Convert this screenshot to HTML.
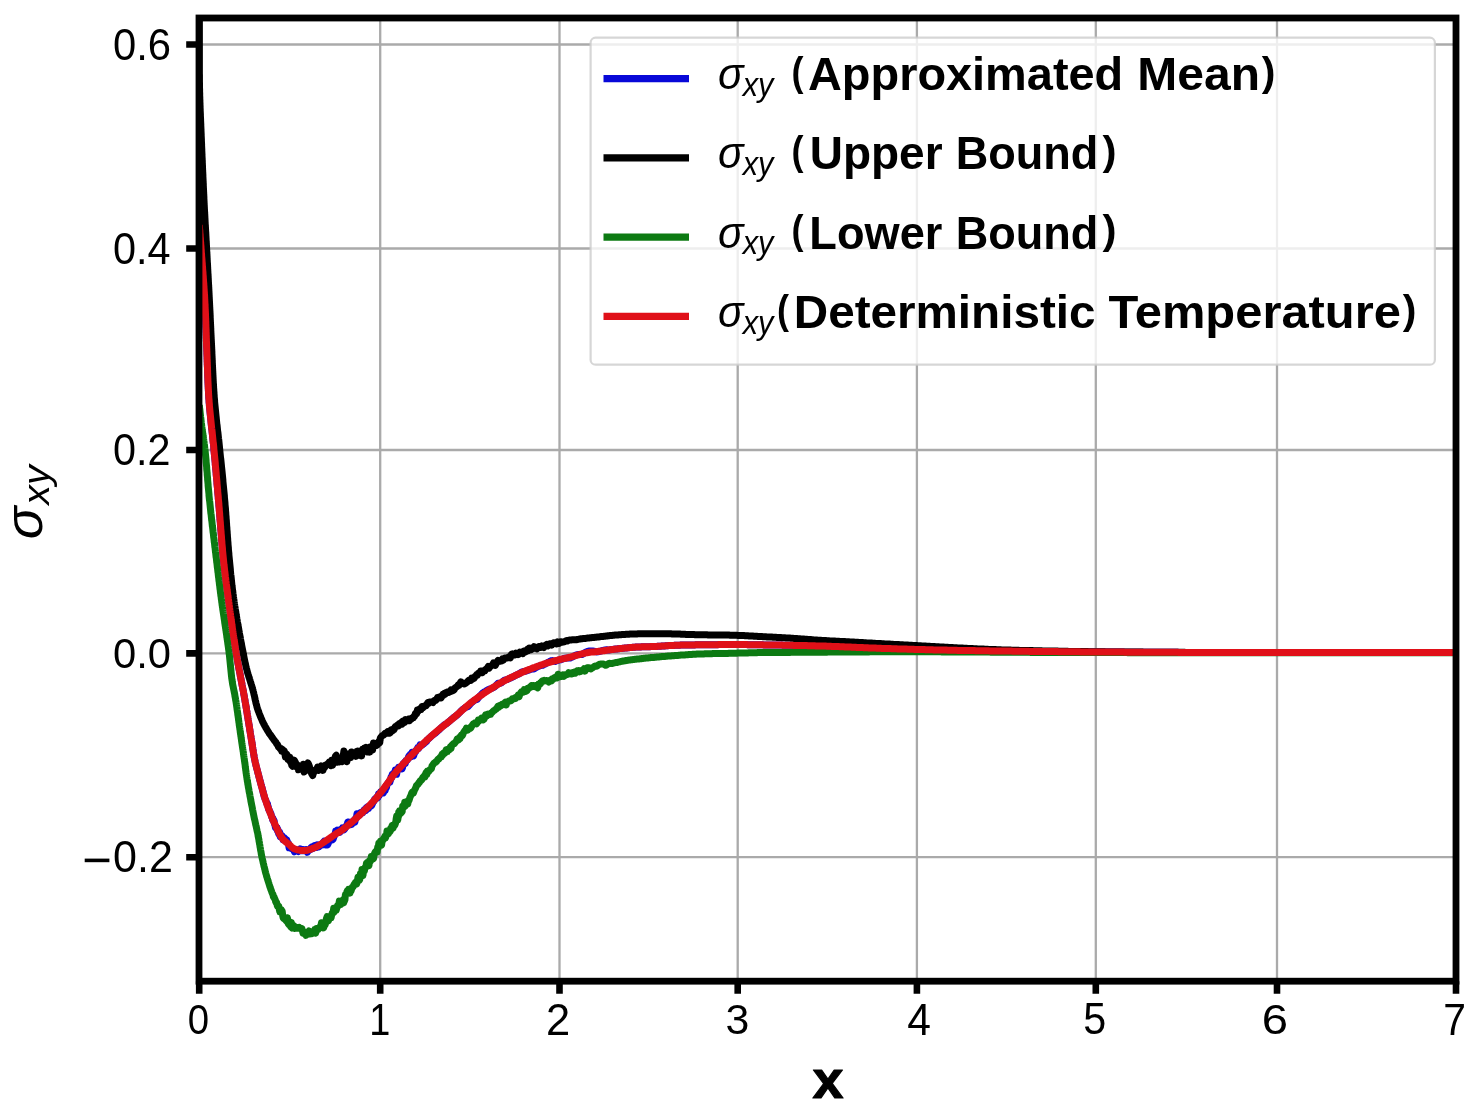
<!DOCTYPE html><html><head><meta charset="utf-8"><style>html,body{margin:0;padding:0;background:#fff;overflow:hidden}svg{display:block;will-change:transform}</style></head><body><svg width="1481" height="1106" viewBox="0 0 1481 1106">
<rect x="0" y="0" width="1481" height="1106" fill="#ffffff"/>
<defs><clipPath id="ax"><rect x="199.0" y="18.0" width="1257.0" height="963.2"/></clipPath></defs>
<path d="M199.2,18.0V981.2M380.2,18.0V981.2M559.5,18.0V981.2M737.7,18.0V981.2M916.9,18.0V981.2M1095.8,18.0V981.2M1277.0,18.0V981.2M1456.0,18.0V981.2M199.0,44.5H1456.0M199.0,248.5H1456.0M199.0,450.0H1456.0M199.0,653.4H1456.0M199.0,857.2H1456.0" stroke="#aaaaaa" stroke-width="2.3" fill="none"/>
<path d="M199.2,981.2V993.8000000000001M380.2,981.2V993.8000000000001M559.5,981.2V993.8000000000001M737.7,981.2V993.8000000000001M916.9,981.2V993.8000000000001M1095.8,981.2V993.8000000000001M1277.0,981.2V993.8000000000001M1456.0,981.2V993.8000000000001M199.0,44.5H186.2M199.0,248.5H186.2M199.0,450.0H186.2M199.0,653.4H186.2M199.0,857.2H186.2" stroke="#000" stroke-width="6.6" fill="none"/>
<g clip-path="url(#ax)" fill="none" stroke-width="7" stroke-linejoin="round" stroke-linecap="butt">
<path d="M199.3,225.0 199.4,226.0 199.5,227.0 199.5,228.0 199.6,229.0 199.7,230.0 199.8,231.0 199.8,232.0 199.9,233.0 200.0,234.0 200.1,235.0 200.1,236.0 200.2,237.0 200.3,238.0 200.4,239.0 200.4,240.0 200.5,241.0 200.6,242.0 200.7,242.9 200.7,243.9 200.8,244.9 200.9,245.9 201.0,246.9 201.0,247.9 201.1,248.9 201.2,249.9 201.3,250.9 201.3,251.9 201.4,252.9 201.5,253.9 201.6,254.9 201.6,255.9 201.7,256.9 201.8,257.9 201.9,258.9 202.0,259.9 202.0,260.9 202.1,261.9 202.2,262.9 202.3,263.9 202.3,264.9 202.4,265.9 202.5,266.9 202.6,267.9 202.6,268.9 202.7,269.9 202.8,270.9 202.9,271.9 203.0,272.9 203.0,273.9 203.1,274.9 203.2,275.9 203.3,276.8 203.3,277.8 203.4,278.8 203.5,279.8 203.5,280.8 203.6,281.8 203.7,282.8 203.8,283.8 203.8,284.8 203.9,285.8 204.0,286.8 204.0,287.8 204.1,288.8 204.2,289.8 204.2,290.8 204.3,291.8 204.4,292.8 204.4,293.8 204.5,294.8 204.6,295.8 204.6,296.8 204.7,297.8 204.7,298.8 204.8,299.8 204.8,300.8 204.9,301.8 204.9,302.8 205.0,303.8 205.1,304.8 205.1,305.8 205.1,306.8 205.2,307.8 205.2,308.8 205.3,309.8 205.3,310.8 205.4,311.8 205.4,312.8 205.5,313.8 205.5,314.8 205.5,315.8 205.6,316.8 205.6,317.8 205.7,318.8 205.7,319.8 205.7,320.8 205.8,321.8 205.8,322.8 205.8,323.8 205.9,324.8 205.9,325.8 205.9,326.8 206.0,327.8 206.0,328.8 206.1,329.8 206.1,330.8 206.1,331.8 206.2,332.8 206.2,333.8 206.2,334.8 206.3,335.8 206.3,336.8 206.3,337.8 206.4,338.8 206.4,339.8 206.4,340.8 206.5,341.8 206.5,342.8 206.6,343.8 206.6,344.8 206.6,345.8 206.7,346.8 206.7,347.8 206.8,348.8 206.8,349.8 206.8,350.8 206.9,351.8 206.9,352.8 206.9,353.8 207.0,354.8 207.0,355.8 207.1,356.8 207.1,357.8 207.1,358.8 207.2,359.7 207.2,360.7 207.2,361.7 207.3,362.7 207.3,363.7 207.3,364.7 207.4,365.7 207.4,366.7 207.5,367.7 207.5,368.7 207.5,369.7 207.6,370.7 207.6,371.7 207.6,372.7 207.7,373.7 207.7,374.7 207.7,375.7 207.8,376.7 207.8,377.7 207.9,378.7 207.9,379.7 207.9,380.7 208.0,381.7 208.0,382.7 208.1,383.7 208.1,384.7 208.2,385.7 208.2,386.7 208.3,387.7 208.3,388.7 208.4,389.7 208.4,390.7 208.5,391.7 208.5,392.7 208.6,393.7 208.6,394.7 208.7,395.7 208.8,396.7 208.8,397.7 208.9,398.7 209.0,399.7 209.1,400.7 209.1,401.7 209.2,402.7 209.3,403.7 209.4,404.7 209.4,405.7 209.5,406.7 209.6,407.7 209.7,408.7 209.8,409.7 209.9,410.7 210.0,411.7 210.1,412.7 210.2,413.7 210.3,414.6 210.4,415.6 210.5,416.6 210.6,417.6 210.7,418.6 210.8,419.6 210.9,420.6 211.0,421.6 211.1,422.6 211.2,423.6 211.3,424.6 211.4,425.6 211.5,426.6 211.6,427.6 211.7,428.6 211.9,429.6 212.0,430.6 212.1,431.6 212.2,432.5 212.3,433.5 212.4,434.5 212.5,435.5 212.6,436.5 212.7,437.5 212.8,438.5 212.9,439.5 213.0,440.5 213.1,441.5 213.2,442.5 213.4,443.5 213.5,444.5 213.6,445.5 213.7,446.5 213.8,447.5 213.8,448.5 213.9,449.5 214.0,450.5 214.1,451.4 214.2,452.4 214.3,453.4 214.4,454.4 214.5,455.4 214.6,456.4 214.7,457.4 214.8,458.4 214.9,459.4 215.0,460.4 215.1,461.4 215.2,462.4 215.3,463.4 215.3,464.4 215.4,465.4 215.5,466.4 215.6,467.4 215.7,468.4 215.8,469.4 215.9,470.4 216.0,471.4 216.1,472.4 216.2,473.4 216.2,474.4 216.3,475.3 216.4,476.3 216.5,477.3 216.6,478.3 216.7,479.3 216.8,480.3 216.9,481.3 217.0,482.3 217.0,483.3 217.1,484.3 217.2,485.3 217.3,486.3 217.4,487.3 217.5,488.3 217.6,489.3 217.7,490.3 217.7,491.3 217.8,492.3 217.9,493.3 218.0,494.3 218.1,495.3 218.2,496.3 218.3,497.3 218.3,498.3 218.4,499.3 218.5,500.3 218.6,501.2 218.7,502.2 218.8,503.2 218.9,504.2 218.9,505.2 219.0,506.2 219.1,507.2 219.2,508.2 219.3,509.2 219.3,510.2 219.4,511.2 219.5,512.2 219.6,513.2 219.7,514.2 219.7,515.2 219.8,516.2 219.9,517.2 220.0,518.2 220.0,519.2 220.1,520.2 220.2,521.2 220.3,522.2 220.4,523.2 220.4,524.2 220.5,525.2 220.6,526.2 220.7,527.2 220.7,528.2 220.8,529.2 220.9,530.2 221.0,531.2 221.1,532.2 221.1,533.1 221.2,534.1 221.3,535.1 221.4,536.1 221.5,537.1 221.5,538.1 221.6,539.1 221.7,540.1 221.8,541.1 221.9,542.1 221.9,543.1 222.0,544.1 222.1,545.1 222.2,546.1 222.3,547.1 222.4,548.1 222.5,549.1 222.5,550.1 222.6,551.1 222.7,552.1 222.8,553.1 222.9,554.1 223.0,555.1 223.1,556.1 223.2,557.1 223.3,558.1 223.4,559.0 223.5,560.0 223.6,561.0 223.7,562.0 223.8,563.0 223.9,564.0 224.0,565.0 224.2,566.0 224.3,567.0 224.4,568.0 224.5,569.0 224.6,570.0 224.7,571.0 224.8,572.0 225.0,573.0 225.1,574.0 225.2,574.9 225.3,575.9 225.4,576.9 225.6,577.9 225.7,578.9 225.8,579.9 225.9,580.9 226.1,581.9 226.2,582.9 226.3,583.9 226.5,584.9 226.6,585.9 226.7,586.8 226.9,587.8 227.0,588.8 227.1,589.8 227.3,590.8 227.4,591.8 227.5,592.8 227.7,593.8 227.8,594.8 227.9,595.8 228.1,596.8 228.2,597.7 228.3,598.7 228.5,599.7 228.6,600.7 228.7,601.7 228.9,602.7 229.0,603.7 229.1,604.7 229.3,605.7 229.4,606.7 229.5,607.7 229.7,608.6 229.8,609.6 229.9,610.6 230.1,611.6 230.2,612.6 230.4,613.6 230.5,614.6 230.6,615.6 230.8,616.6 230.9,617.6 231.0,618.6 231.2,619.5 231.3,620.5 231.5,621.5 231.6,622.5 231.7,623.5 231.9,624.5 232.0,625.5 232.2,626.5 232.3,627.5 232.4,628.5 232.6,629.4 232.7,630.4 232.9,631.4 233.0,632.4 233.2,633.4 233.3,634.4 233.5,635.4 233.6,636.4 233.8,637.4 233.9,638.4 234.1,639.3 234.2,640.3 234.4,641.3 234.5,642.3 234.7,643.3 234.8,644.3 235.0,645.3 235.1,646.3 235.3,647.2 235.4,648.2 235.6,649.2 235.7,650.2 235.9,651.2 236.1,652.2 236.2,653.2 236.4,654.2 236.6,655.1 236.7,656.1 236.9,657.1 237.1,658.1 237.2,659.1 237.4,660.1 237.6,661.1 237.8,662.0 237.9,663.0 238.1,664.0 238.3,665.0 238.5,666.0 238.7,667.0 238.8,667.9 239.0,668.9 239.2,669.9 239.4,670.9 239.6,671.9 239.8,672.9 240.0,673.8 240.2,674.8 240.3,675.8 240.5,676.8 240.7,677.8 240.9,678.7 241.1,679.7 241.3,680.7 241.5,681.7 241.7,682.7 241.9,683.7 242.0,684.6 242.2,685.6 242.4,686.6 242.6,687.6 242.8,688.6 243.0,689.5 243.2,690.5 243.4,691.5 243.5,692.5 243.7,693.5 243.9,694.5 244.1,695.4 244.3,696.4 244.4,697.4 244.6,698.4 244.8,699.4 245.0,700.4 245.1,701.4 245.3,702.3 245.5,703.3 245.6,704.3 245.8,705.3 246.0,706.3 246.1,707.3 246.3,708.3 246.5,709.2 246.6,710.2 246.8,711.2 247.0,712.2 247.1,713.2 247.3,714.2 247.4,715.2 247.6,716.1 247.8,717.1 247.9,718.1 248.1,719.1 248.2,720.1 248.4,721.1 248.6,722.1 248.7,723.1 248.9,724.0 249.0,725.0 249.2,726.0 249.4,727.0 249.5,728.0 249.7,729.0 249.8,730.0 250.0,731.0 250.2,731.9 250.3,732.9 250.5,733.9 250.6,734.9 250.8,735.9 251.0,736.9 251.1,737.9 251.3,738.9 251.4,739.8 251.6,740.8 251.8,741.8 251.9,742.8 252.1,743.8 252.2,744.8 252.4,745.8 252.5,746.8 252.7,747.7 252.8,748.7 253.0,749.7 253.2,750.7 253.3,751.7 253.5,752.7 253.6,753.7 253.8,754.7 254.0,755.6 254.1,756.6 254.3,757.6 254.5,758.6 254.7,759.6 254.9,760.5 255.1,761.5 255.3,762.5 255.6,763.5 255.8,764.5 256.0,765.4 256.3,766.4 256.5,767.4 256.7,768.3 257.0,769.3 257.3,770.3 257.5,771.2 257.8,772.2 258.0,773.2 258.3,774.1 258.5,775.1 258.8,776.1 259.0,777.0 259.3,778.0 259.5,779.0 259.8,779.9 260.1,780.9 260.3,781.8 260.6,782.8 260.8,783.7 261.1,784.8 261.4,785.5 261.6,786.6 261.9,787.5 262.2,788.3 262.4,789.8 262.7,790.4 263.0,791.4 263.2,792.6 263.5,794.0 263.8,794.6 264.1,796.4 264.4,796.7 264.6,797.5 264.9,798.6 265.2,799.2 265.5,799.7 265.9,800.6 266.2,801.7 266.5,803.1 266.8,803.2 267.1,804.2 267.5,803.7 267.8,805.7 268.2,806.8 268.5,808.9 268.9,809.8 269.2,809.9 269.6,811.2 270.0,811.7 270.3,812.2 270.7,813.7 271.1,814.3 271.4,815.9 271.8,817.1 272.2,817.3 272.6,819.5 273.0,818.3 273.4,820.4 273.7,821.6 274.1,820.5 274.6,824.1 275.0,825.2 275.4,827.3 275.8,826.4 276.2,828.1 276.7,829.1 277.1,827.6 277.5,830.7 278.0,829.7 278.4,832.6 278.8,834.1 279.3,834.3 279.7,832.2 280.2,836.6 280.7,835.7 281.2,836.9 281.8,835.4 282.4,836.3 283.0,839.6 283.7,837.7 284.4,837.9 285.2,838.7 285.9,841.4 286.7,839.8 287.5,842.5 288.3,843.0 289.1,847.8 289.8,847.4 290.5,847.4 291.2,848.5 291.9,848.6 292.7,848.8 293.5,849.4 294.4,851.8 295.4,849.6 296.3,849.7 297.3,850.4 298.3,851.6 299.2,850.5 300.2,848.8 301.2,850.5 302.2,850.8 303.2,849.5 304.2,849.9 305.2,850.8 306.2,849.7 307.2,852.3 308.1,851.1 309.1,850.3 310.1,849.7 311.0,847.7 311.9,846.9 312.9,848.5 313.8,847.6 314.7,845.5 315.6,845.8 316.5,847.4 317.4,844.9 318.3,845.4 319.1,846.7 320.0,844.9 320.8,844.6 321.7,843.9 322.5,844.8 323.3,842.2 324.2,841.1 325.0,842.9 325.8,845.0 326.7,843.9 327.5,844.8 328.3,843.5 329.1,839.9 330.0,840.3 330.8,839.5 331.6,839.0 332.4,839.8 333.2,839.1 334.0,836.4 334.9,835.0 335.7,831.1 336.5,832.0 337.4,830.1 338.3,831.1 339.1,830.2 340.0,832.3 340.8,829.8 341.6,830.5 342.5,827.8 343.2,829.3 344.0,829.8 344.8,828.8 345.6,827.6 346.4,825.9 347.2,824.0 347.9,822.0 348.7,821.9 349.5,824.6 350.2,824.0 351.0,824.7 351.8,824.3 352.5,821.8 353.3,821.0 354.0,820.3 354.8,822.3 355.5,818.5 356.3,818.1 357.0,813.8 357.7,814.8 358.5,814.8 359.2,813.5 359.9,814.8 360.6,812.5 361.4,812.2 362.1,812.9 362.8,812.8 363.5,810.9 364.2,809.6 364.9,809.4 365.7,810.6 366.4,807.6 367.1,807.2 367.8,806.7 368.5,808.4 369.2,807.2 369.9,805.5 370.6,805.4 371.2,805.9 371.9,805.1 372.6,803.2 373.3,802.0 374.0,801.2 374.6,799.3 375.3,799.0 376.0,798.2 376.6,797.3 377.3,798.1 377.9,797.7 378.5,794.1 379.2,795.6 379.8,793.8 380.4,792.2 381.0,793.2 381.6,792.3 382.2,792.4 382.8,790.8 383.4,793.0 384.0,791.2 384.6,788.9 385.2,790.6 385.8,786.4 386.4,787.9 387.0,784.8 387.5,783.8 388.1,783.0 388.7,782.1 389.2,781.5 389.8,782.3 390.4,780.5 391.0,777.4 391.6,777.9 392.2,774.5 392.8,775.3 393.4,773.3 394.0,773.1 394.6,774.1 395.3,770.0 395.9,774.2 396.6,774.3 397.2,771.2 397.9,769.6 398.5,767.3 399.2,768.6 399.9,767.2 400.5,767.0 401.2,766.4 401.9,768.9 402.6,767.4 403.2,763.9 403.9,764.4 404.6,762.0 405.3,763.5 406.0,760.4 406.7,760.3 407.4,760.0 408.1,758.1 408.7,756.2 409.4,756.3 410.1,754.5 410.8,756.9 411.5,755.8 412.2,752.4 412.9,752.7 413.6,756.0 414.3,753.6 415.0,751.4 415.7,751.6 416.4,749.9 417.1,749.4 417.8,747.6 418.6,748.6 419.3,746.7 420.0,744.9 420.7,745.4 421.4,744.9 422.1,745.0 422.9,744.5 423.6,744.0 424.3,743.0 425.0,742.9 425.8,741.9 426.5,741.5 427.2,740.0 428.0,739.3 428.7,738.6 429.5,738.0 430.2,737.3 430.9,736.6 431.7,735.8 432.4,735.2 433.2,734.7 433.9,734.1 434.7,733.6 435.5,733.0 436.2,732.4 437.0,731.7 437.7,731.1 438.5,730.3 439.3,729.6 440.0,728.8 440.8,728.1 441.6,727.3 442.4,726.6 443.2,725.9 444.0,725.2 444.7,724.7 445.5,724.2 446.3,723.7 447.1,723.2 447.9,722.5 448.7,721.9 449.5,721.2 450.2,720.6 451.0,719.8 451.8,719.1 452.6,718.4 453.3,717.8 454.1,717.3 454.8,716.7 455.6,716.2 456.4,715.6 457.1,715.0 457.9,714.3 458.6,713.6 459.3,712.9 460.1,712.1 460.8,711.2 461.6,710.4 462.3,709.7 463.1,709.1 463.8,708.6 464.6,708.0 465.3,707.6 466.1,707.3 466.8,707.0 467.6,706.7 468.4,706.2 469.1,705.3 469.9,704.4 470.7,703.5 471.5,702.7 472.3,702.0 473.1,701.3 473.9,700.6 474.7,700.2 475.5,699.9 476.3,699.7 477.1,699.3 477.9,698.4 478.7,697.4 479.5,696.4 480.3,695.5 481.2,694.6 482.0,693.8 482.8,692.9 483.6,692.4 484.5,691.9 485.3,691.4 486.1,690.9 487.0,690.4 487.8,690.0 488.6,689.5 489.5,689.1 490.3,688.8 491.2,688.5 492.0,688.2 492.9,687.8 493.7,687.4 494.6,686.9 495.4,686.2 496.3,685.3 497.1,684.3 498.0,683.3 498.8,683.3 499.7,683.2 500.6,683.2 501.4,682.8 502.3,682.0 503.2,681.1 504.1,680.4 505.0,680.1 505.8,679.9 506.7,679.7 507.6,679.3 508.5,678.9 509.4,678.5 510.3,678.1 511.2,677.6 512.1,677.2 513.0,676.8 514.0,676.3 514.9,675.8 515.8,675.3 516.7,674.9 517.6,674.5 518.5,674.1 519.4,673.6 520.3,673.0 521.2,672.4 522.1,671.9 523.0,671.7 524.0,671.5 524.9,671.3 525.8,671.1 526.7,670.8 527.7,670.5 528.6,670.2 529.5,669.8 530.5,669.4 531.4,669.2 532.3,669.1 533.3,669.0 534.2,668.8 535.1,668.2 536.1,667.6 537.0,667.0 537.9,666.6 538.9,666.2 539.8,665.8 540.8,665.6 541.7,665.4 542.7,665.2 543.6,664.8 544.5,664.3 545.5,663.8 546.5,663.2 547.4,662.7 548.4,662.2 549.3,661.7 550.3,661.2 551.2,660.8 552.2,660.6 553.2,660.9 554.1,661.2 555.1,661.4 556.1,661.0 557.0,660.7 558.0,660.3 559.0,660.1 559.9,659.9 560.9,659.7 561.9,659.3 562.9,658.9 563.8,658.5 564.8,658.3 565.8,658.2 566.8,658.1 567.7,658.1 568.7,658.1 569.7,658.1 570.7,657.8 571.6,657.3 572.6,656.8 573.6,656.3 574.5,655.8 575.5,655.3 576.4,654.9 577.4,654.7 578.4,654.6 579.3,654.5 580.3,654.5 581.3,654.5 582.2,654.4 583.2,653.8 584.2,653.1 585.1,652.5 586.1,652.1 587.1,651.6 588.1,651.2 589.1,651.1 590.1,651.0 591.1,651.0 592.1,651.1 593.0,651.1 594.0,651.2 595.0,651.5 596.0,651.7 597.0,652.0 598.0,651.7 599.0,651.5 600.0,651.3 601.0,651.0 602.0,650.7 603.0,650.4 604.0,650.2 605.0,650.0 605.9,649.8 606.9,649.8 607.9,649.9 608.9,649.9 609.9,649.8 610.9,649.6 611.9,649.5 612.9,649.4 613.9,649.2 614.9,649.1 615.9,649.0 616.9,648.9 617.8,648.8 618.8,648.7 619.8,648.6 620.8,648.5 621.8,648.4 622.8,648.3 623.8,648.2 624.8,648.1 625.8,648.0 626.8,647.9 627.8,647.8 628.8,647.7 629.8,647.6 630.8,647.5 631.8,647.4 632.8,647.3 633.8,647.2 634.8,647.2 635.8,647.1 636.8,647.0 637.8,647.0 638.8,646.9 639.8,646.9 640.8,646.9 641.8,646.8 642.8,646.8 643.8,646.8 644.8,646.8 645.8,646.7 646.8,646.7 647.8,646.7 648.8,646.7 649.8,646.7 650.8,646.6 651.8,646.6 652.8,646.6 653.8,646.5 654.8,646.5 655.7,646.4 656.7,646.4 657.7,646.3 658.7,646.3 659.7,646.2 660.7,646.2 661.7,646.1 662.7,646.0 663.7,646.0 664.7,645.9 665.7,645.8 666.7,645.8 667.7,645.7 668.7,645.6 669.7,645.6 670.7,645.5 671.7,645.5 672.7,645.4 673.7,645.4 674.7,645.3 675.7,645.3 676.7,645.3 677.7,645.2 678.7,645.2 679.7,645.2 680.7,645.1 681.7,645.1 682.7,645.1 683.7,645.1 684.7,645.0 685.7,645.0 686.7,645.0 687.7,645.0 688.7,645.0 689.7,644.9 690.7,644.9 691.7,644.9 692.7,644.9 693.7,644.9 694.7,644.9 695.7,644.8 696.7,644.8 697.7,644.8 698.7,644.8 699.7,644.8 700.7,644.8 701.7,644.8 702.7,644.8 703.7,644.8 704.7,644.7 705.7,644.7 706.7,644.7 707.7,644.7 708.7,644.7 709.7,644.7 710.7,644.7 711.7,644.7 712.7,644.7 713.7,644.7 714.7,644.7 715.7,644.7 716.7,644.7 717.7,644.7 718.7,644.6 719.7,644.6 720.7,644.6 721.7,644.6 722.7,644.6 723.7,644.6 724.7,644.6 725.7,644.6 726.7,644.6 727.7,644.6 728.7,644.6 729.7,644.6 730.7,644.6 731.7,644.6 732.7,644.6 733.7,644.6 734.7,644.6 735.7,644.6 736.7,644.6 737.7,644.6 738.7,644.6 739.7,644.6 740.7,644.6 741.7,644.6 742.7,644.6 743.7,644.6 744.7,644.6 745.7,644.6 746.7,644.6 747.7,644.7 748.7,644.7 749.7,644.7 750.7,644.7 751.7,644.7 752.7,644.7 753.7,644.7 754.7,644.7 755.7,644.7 756.7,644.8 757.7,644.8 758.7,644.8 759.7,644.8 760.7,644.8 761.7,644.8 762.7,644.8 763.7,644.9 764.7,644.9 765.7,644.9 766.7,644.9 767.7,644.9 768.7,644.9 769.7,644.9 770.7,645.0 771.7,645.0 772.7,645.0 773.7,645.0 774.7,645.0 775.7,645.0 776.7,645.1 777.7,645.1 778.7,645.1 779.7,645.1 780.7,645.1 781.7,645.1 782.7,645.2 783.7,645.2 784.7,645.2 785.7,645.2 786.7,645.2 787.7,645.2 788.7,645.3 789.7,645.3 790.7,645.3 791.7,645.3 792.7,645.3 793.7,645.4 794.7,645.4 795.7,645.4 796.7,645.4 797.7,645.4 798.7,645.5 799.7,645.5 800.7,645.5 801.7,645.5 802.7,645.5 803.7,645.6 804.7,645.6 805.7,645.6 806.7,645.6 807.7,645.7 808.7,645.7 809.7,645.7 810.7,645.7 811.7,645.8 812.7,645.8 813.7,645.8 814.7,645.8 815.7,645.9 816.7,645.9 817.7,645.9 818.7,645.9 819.7,646.0 820.7,646.0 821.7,646.0 822.7,646.1 823.7,646.1 824.7,646.1 825.7,646.1 826.7,646.2 827.7,646.2 828.7,646.3 829.7,646.3 830.7,646.3 831.7,646.4 832.7,646.4 833.7,646.4 834.7,646.5 835.7,646.5 836.7,646.5 837.7,646.6 838.7,646.6 839.7,646.7 840.7,646.7 841.7,646.7 842.7,646.8 843.7,646.8 844.7,646.9 845.7,646.9 846.7,647.0 847.7,647.0 848.7,647.0 849.7,647.1 850.7,647.1 851.7,647.2 852.7,647.2 853.7,647.3 854.7,647.3 855.7,647.3 856.7,647.4 857.7,647.4 858.7,647.5 859.7,647.5 860.7,647.6 861.7,647.6 862.7,647.6 863.7,647.7 864.7,647.7 865.7,647.8 866.7,647.8 867.7,647.8 868.7,647.9 869.7,647.9 870.7,648.0 871.7,648.0 872.7,648.0 873.7,648.1 874.7,648.1 875.7,648.1 876.7,648.2 877.7,648.2 878.7,648.3 879.7,648.3 880.7,648.3 881.7,648.4 882.7,648.4 883.6,648.4 884.6,648.5 885.6,648.5 886.6,648.5 887.6,648.6 888.6,648.6 889.6,648.6 890.6,648.6 891.6,648.7 892.6,648.7 893.6,648.7 894.6,648.8 895.6,648.8 896.6,648.8 897.6,648.9 898.6,648.9 899.6,648.9 900.6,649.0 901.6,649.0 902.6,649.0 903.6,649.0 904.6,649.1 905.6,649.1 906.6,649.1 907.6,649.2 908.6,649.2 909.6,649.2 910.6,649.3 911.6,649.3 912.6,649.3 913.6,649.3 914.6,649.4 915.6,649.4 916.6,649.4 917.6,649.4 918.6,649.5 919.6,649.5 920.6,649.5 921.6,649.6 922.6,649.6 923.6,649.6 924.6,649.6 925.6,649.7 926.6,649.7 927.6,649.7 928.6,649.7 929.6,649.8 930.6,649.8 931.6,649.8 932.6,649.8 933.6,649.9 934.6,649.9 935.6,649.9 936.6,649.9 937.6,649.9 938.6,650.0 939.6,650.0 940.6,650.0 941.6,650.0 942.6,650.1 943.6,650.1 944.6,650.1 945.6,650.1 946.6,650.1 947.6,650.2 948.6,650.2 949.6,650.2 950.6,650.2 951.6,650.2 952.6,650.3 953.6,650.3 954.6,650.3 955.6,650.3 956.6,650.3 957.6,650.4 958.6,650.4 959.6,650.4 960.6,650.4 961.6,650.4 962.6,650.4 963.6,650.5 964.6,650.5 965.6,650.5 966.6,650.5 967.6,650.5 968.6,650.5 969.6,650.6 970.6,650.6 971.6,650.6 972.6,650.6 973.6,650.6 974.6,650.6 975.6,650.7 976.6,650.7 977.6,650.7 978.6,650.7 979.6,650.7 980.6,650.7 981.6,650.7 982.6,650.8 983.6,650.8 984.6,650.8 985.6,650.8 986.6,650.8 987.6,650.8 988.6,650.8 989.6,650.9 990.6,650.9 991.6,650.9 992.6,650.9 993.6,650.9 994.6,650.9 995.6,650.9 996.6,651.0 997.6,651.0 998.6,651.0 999.6,651.0 1000.6,651.0 1001.6,651.0 1002.6,651.0 1003.6,651.0 1004.6,651.1 1005.6,651.1 1006.6,651.1 1007.6,651.1 1008.6,651.1 1009.6,651.1 1010.6,651.1 1011.6,651.1 1012.6,651.2 1013.6,651.2 1014.6,651.2 1015.6,651.2 1016.6,651.2 1017.6,651.2 1018.6,651.2 1019.6,651.2 1020.6,651.3 1021.6,651.3 1022.6,651.3 1023.6,651.3 1024.6,651.3 1025.6,651.3 1026.6,651.3 1027.6,651.3 1028.6,651.3 1029.6,651.4 1030.6,651.4 1031.6,651.4 1032.6,651.4 1033.6,651.4 1034.6,651.4 1035.6,651.4 1036.6,651.4 1037.6,651.4 1038.6,651.5 1039.6,651.5 1040.6,651.5 1041.6,651.5 1042.6,651.5 1043.6,651.5 1044.6,651.5 1045.6,651.5 1046.6,651.5 1047.6,651.5 1048.6,651.6 1049.6,651.6 1050.6,651.6 1051.6,651.6 1052.6,651.6 1053.6,651.6 1054.6,651.6 1055.6,651.6 1056.6,651.6 1057.6,651.6 1058.6,651.7 1059.6,651.7 1060.6,651.7 1061.6,651.7 1062.6,651.7 1063.6,651.7 1064.6,651.7 1065.6,651.7 1066.6,651.7 1067.6,651.7 1068.6,651.7 1069.6,651.8 1070.6,651.8 1071.6,651.8 1072.6,651.8 1073.6,651.8 1074.6,651.8 1075.6,651.8 1076.6,651.8 1077.6,651.8 1078.6,651.8 1079.6,651.8 1080.6,651.9 1081.6,651.9 1082.6,651.9 1083.6,651.9 1084.6,651.9 1085.6,651.9 1086.6,651.9 1087.6,651.9 1088.6,651.9 1089.6,651.9 1090.6,651.9 1091.6,651.9 1092.6,651.9 1093.6,652.0 1094.6,652.0 1095.6,652.0 1096.6,652.0 1097.6,652.0 1098.6,652.0 1099.6,652.0 1100.6,652.0 1101.6,652.0 1102.6,652.0 1103.6,652.0 1104.6,652.0 1105.6,652.0 1106.6,652.0 1107.6,652.1 1108.6,652.1 1109.6,652.1 1110.6,652.1 1111.6,652.1 1112.6,652.1 1113.6,652.1 1114.6,652.1 1115.6,652.1 1116.6,652.1 1117.6,652.1 1118.6,652.1 1119.6,652.1 1120.6,652.1 1121.6,652.1 1122.6,652.1 1123.6,652.1 1124.6,652.2 1125.6,652.2 1126.6,652.2 1127.6,652.2 1128.6,652.2 1129.6,652.2 1130.6,652.2 1131.6,652.2 1132.6,652.2 1133.6,652.2 1134.6,652.2 1135.6,652.2 1136.6,652.2 1137.6,652.2 1138.6,652.2 1139.6,652.2 1140.6,652.2 1141.6,652.2 1142.6,652.2 1143.6,652.2 1144.6,652.2 1145.6,652.2 1146.6,652.3 1147.6,652.3 1148.6,652.3 1149.6,652.3 1150.6,652.3 1151.6,652.3 1152.6,652.3 1153.6,652.3 1154.6,652.3 1155.6,652.3 1156.6,652.3 1157.6,652.3 1158.6,652.3 1159.6,652.3 1160.6,652.3 1161.6,652.3 1162.6,652.3 1163.6,652.3 1164.6,652.3 1165.6,652.3 1166.6,652.3 1167.6,652.3 1168.6,652.3 1169.6,652.3 1170.6,652.3 1171.6,652.3 1172.6,652.3 1173.6,652.3 1174.6,652.3 1175.6,652.3 1176.6,652.3 1177.6,652.3 1178.6,652.4 1179.6,652.4 1180.6,652.4 1181.6,652.4 1182.6,652.4 1183.6,652.4 1184.6,652.4 1185.6,652.4 1186.6,652.4 1187.6,652.4 1188.6,652.4 1189.6,652.4 1190.6,652.4 1191.6,652.4 1192.6,652.4 1193.6,652.4 1194.6,652.4 1195.6,652.4 1196.6,652.4 1197.6,652.4 1198.6,652.4 1199.6,652.4 1200.6,652.4 1201.6,652.4 1202.6,652.4 1203.6,652.4 1204.6,652.4 1205.6,652.4 1206.6,652.4 1207.6,652.4 1208.6,652.4 1209.6,652.4 1210.6,652.4 1211.6,652.4 1212.6,652.4 1213.6,652.4 1214.6,652.4 1215.6,652.4 1216.6,652.4 1217.6,652.4 1218.6,652.4 1219.6,652.4 1220.6,652.4 1221.6,652.4 1222.6,652.4 1223.6,652.4 1224.6,652.4 1225.6,652.4 1226.6,652.4 1227.6,652.4 1228.6,652.4 1229.6,652.4 1230.6,652.4 1231.6,652.4 1232.6,652.5 1233.6,652.5 1234.6,652.5 1235.6,652.5 1236.6,652.5 1237.6,652.5 1238.6,652.5 1239.6,652.5 1240.6,652.5 1241.6,652.5 1242.6,652.5 1243.6,652.5 1244.6,652.5 1245.6,652.5 1246.6,652.5 1247.6,652.5 1248.6,652.5 1249.6,652.5 1250.6,652.5 1251.6,652.5 1252.6,652.5 1253.6,652.5 1254.6,652.5 1255.6,652.5 1256.6,652.5 1257.6,652.5 1258.6,652.5 1259.6,652.5 1260.6,652.5 1261.6,652.5 1262.6,652.5 1263.6,652.5 1264.6,652.5 1265.6,652.5 1266.6,652.5 1267.6,652.5 1268.6,652.5 1269.6,652.5 1270.6,652.5 1271.6,652.5 1272.6,652.5 1273.6,652.5 1274.6,652.5 1275.6,652.5 1276.6,652.5 1277.6,652.5 1278.6,652.5 1279.6,652.5 1280.6,652.5 1281.6,652.5 1282.6,652.5 1283.6,652.5 1284.6,652.5 1285.6,652.5 1286.6,652.5 1287.6,652.5 1288.6,652.5 1289.6,652.5 1290.6,652.5 1291.6,652.5 1292.6,652.5 1293.6,652.5 1294.6,652.5 1295.6,652.5 1296.6,652.5 1297.6,652.5 1298.6,652.5 1299.6,652.5 1300.6,652.5 1301.6,652.5 1302.6,652.5 1303.6,652.5 1304.6,652.5 1305.6,652.5 1306.6,652.5 1307.6,652.5 1308.6,652.5 1309.6,652.5 1310.6,652.5 1311.6,652.5 1312.6,652.5 1313.6,652.5 1314.6,652.5 1315.6,652.5 1316.6,652.5 1317.6,652.5 1318.6,652.5 1319.6,652.5 1320.6,652.5 1321.6,652.5 1322.6,652.5 1323.6,652.5 1324.6,652.5 1325.6,652.5 1326.6,652.5 1327.6,652.5 1328.6,652.5 1329.6,652.5 1330.6,652.5 1331.6,652.5 1332.6,652.5 1333.6,652.5 1334.6,652.5 1335.6,652.5 1336.6,652.5 1337.6,652.5 1338.6,652.5 1339.6,652.5 1340.6,652.5 1341.6,652.5 1342.6,652.5 1343.6,652.5 1344.6,652.5 1345.6,652.5 1346.6,652.5 1347.6,652.5 1348.6,652.5 1349.6,652.5 1350.6,652.5 1351.6,652.5 1352.6,652.5 1353.6,652.5 1354.6,652.5 1355.6,652.5 1356.6,652.5 1357.6,652.5 1358.6,652.5 1359.6,652.5 1360.6,652.5 1361.6,652.5 1362.6,652.5 1363.6,652.5 1364.6,652.5 1365.6,652.5 1366.6,652.5 1367.6,652.5 1368.6,652.5 1369.6,652.5 1370.6,652.5 1371.6,652.5 1372.6,652.5 1373.6,652.5 1374.6,652.5 1375.6,652.5 1376.6,652.5 1377.6,652.5 1378.6,652.5 1379.6,652.5 1380.6,652.5 1381.6,652.5 1382.6,652.5 1383.6,652.5 1384.6,652.5 1385.6,652.5 1386.6,652.5 1387.6,652.5 1388.6,652.5 1389.6,652.5 1390.6,652.5 1391.6,652.5 1392.6,652.5 1393.6,652.5 1394.6,652.5 1395.6,652.5 1396.6,652.5 1397.6,652.5 1398.6,652.5 1399.6,652.5 1400.6,652.5 1401.6,652.5 1402.6,652.5 1403.6,652.5 1404.6,652.5 1405.6,652.5 1406.6,652.5 1407.6,652.5 1408.6,652.5 1409.6,652.5 1410.6,652.5 1411.6,652.5 1412.6,652.5 1413.6,652.5 1414.6,652.5 1415.6,652.5 1416.6,652.5 1417.6,652.5 1418.6,652.5 1419.6,652.5 1420.6,652.5 1421.6,652.5 1422.6,652.5 1423.6,652.5 1424.6,652.5 1425.6,652.5 1426.6,652.5 1427.6,652.5 1428.6,652.5 1429.6,652.5 1430.6,652.5 1431.6,652.5 1432.6,652.5 1433.6,652.5 1434.6,652.5 1435.6,652.5 1436.6,652.5 1437.6,652.5 1438.6,652.5 1439.6,652.5 1440.6,652.5 1441.6,652.5 1442.6,652.5 1443.6,652.5 1444.6,652.5 1445.6,652.5 1446.6,652.5 1447.6,652.5 1448.6,652.5 1449.6,652.5 1450.6,652.5 1451.6,652.5 1452.6,652.5 1453.6,652.5 1454.6,652.5 1455.6,652.5" stroke="#0808d8"/>
<path d="M199.3,18.0 199.3,19.0 199.3,20.0 199.3,21.0 199.3,22.0 199.3,23.0 199.3,24.0 199.3,25.0 199.3,26.0 199.3,27.0 199.3,28.0 199.3,29.0 199.3,30.0 199.3,31.0 199.3,32.0 199.3,33.0 199.3,34.0 199.3,35.0 199.3,36.0 199.3,37.0 199.3,38.0 199.3,39.0 199.3,40.0 199.3,41.0 199.3,42.0 199.3,43.0 199.3,44.0 199.3,45.0 199.3,46.0 199.3,47.0 199.3,48.0 199.3,49.0 199.3,50.0 199.3,51.0 199.3,52.0 199.3,53.0 199.3,54.0 199.3,55.0 199.3,56.0 199.3,57.0 199.3,58.0 199.3,59.0 199.3,60.0 199.3,61.0 199.3,62.0 199.3,63.0 199.3,64.0 199.3,65.0 199.3,66.0 199.3,67.0 199.3,68.0 199.3,69.0 199.3,70.0 199.3,71.0 199.3,72.0 199.3,73.0 199.3,74.0 199.4,75.0 199.4,76.0 199.4,77.0 199.4,78.0 199.4,79.0 199.4,80.0 199.4,81.0 199.4,82.0 199.5,83.0 199.5,84.0 199.5,85.0 199.5,86.0 199.5,87.0 199.5,88.0 199.6,89.0 199.6,90.0 199.6,91.0 199.6,92.0 199.7,93.0 199.7,94.0 199.7,95.0 199.7,96.0 199.8,97.0 199.8,98.0 199.8,99.0 199.9,100.0 199.9,101.0 199.9,102.0 200.0,103.0 200.0,104.0 200.0,105.0 200.1,106.0 200.1,107.0 200.1,108.0 200.2,109.0 200.2,110.0 200.2,111.0 200.3,112.0 200.3,113.0 200.4,114.0 200.4,115.0 200.4,116.0 200.5,117.0 200.5,118.0 200.6,119.0 200.6,120.0 200.6,121.0 200.7,122.0 200.7,123.0 200.8,124.0 200.8,125.0 200.8,126.0 200.9,127.0 200.9,128.0 201.0,129.0 201.0,130.0 201.0,131.0 201.1,132.0 201.1,133.0 201.2,134.0 201.2,135.0 201.2,136.0 201.3,137.0 201.3,138.0 201.4,139.0 201.4,140.0 201.4,141.0 201.5,142.0 201.5,143.0 201.6,144.0 201.6,145.0 201.6,146.0 201.7,147.0 201.7,148.0 201.8,149.0 201.8,150.0 201.8,151.0 201.9,152.0 201.9,153.0 202.0,154.0 202.0,155.0 202.0,156.0 202.1,157.0 202.1,157.9 202.2,158.9 202.2,159.9 202.3,160.9 202.3,161.9 202.3,162.9 202.4,163.9 202.4,164.9 202.5,165.9 202.5,166.9 202.5,167.9 202.6,168.9 202.6,169.9 202.7,170.9 202.7,171.9 202.8,172.9 202.8,173.9 202.9,174.9 202.9,175.9 202.9,176.9 203.0,177.9 203.0,178.9 203.1,179.9 203.1,180.9 203.2,181.9 203.2,182.9 203.3,183.9 203.3,184.9 203.3,185.9 203.4,186.9 203.4,187.9 203.5,188.9 203.5,189.9 203.6,190.9 203.6,191.9 203.7,192.9 203.7,193.9 203.8,194.9 203.8,195.9 203.9,196.9 203.9,197.9 203.9,198.9 204.0,199.9 204.0,200.9 204.1,201.9 204.1,202.9 204.2,203.9 204.2,204.9 204.3,205.9 204.3,206.9 204.4,207.9 204.4,208.9 204.5,209.9 204.5,210.9 204.6,211.9 204.7,212.9 204.7,213.9 204.8,214.9 204.8,215.9 204.9,216.9 204.9,217.9 205.0,218.9 205.0,219.9 205.1,220.9 205.1,221.9 205.2,222.9 205.2,223.9 205.3,224.9 205.4,225.9 205.4,226.9 205.5,227.9 205.5,228.9 205.6,229.9 205.6,230.9 205.7,231.9 205.8,232.9 205.8,233.9 205.9,234.9 205.9,235.9 206.0,236.9 206.0,237.9 206.1,238.9 206.1,239.9 206.2,240.8 206.3,241.8 206.3,242.8 206.4,243.8 206.4,244.8 206.5,245.8 206.5,246.8 206.6,247.8 206.6,248.8 206.7,249.8 206.7,250.8 206.8,251.8 206.9,252.8 206.9,253.8 207.0,254.8 207.0,255.8 207.1,256.8 207.1,257.8 207.2,258.8 207.2,259.8 207.3,260.8 207.3,261.8 207.4,262.8 207.5,263.8 207.5,264.8 207.6,265.8 207.6,266.8 207.7,267.8 207.7,268.8 207.8,269.8 207.8,270.8 207.9,271.8 207.9,272.8 208.0,273.8 208.1,274.8 208.1,275.8 208.2,276.8 208.2,277.8 208.3,278.8 208.3,279.8 208.4,280.8 208.4,281.8 208.5,282.8 208.5,283.8 208.6,284.8 208.7,285.8 208.7,286.8 208.8,287.8 208.8,288.8 208.9,289.8 208.9,290.8 209.0,291.8 209.0,292.8 209.1,293.8 209.1,294.8 209.2,295.8 209.2,296.8 209.3,297.8 209.3,298.8 209.4,299.8 209.4,300.8 209.5,301.8 209.5,302.8 209.6,303.8 209.6,304.8 209.7,305.8 209.7,306.8 209.8,307.8 209.8,308.8 209.9,309.8 209.9,310.7 210.0,311.7 210.0,312.7 210.1,313.7 210.1,314.7 210.2,315.7 210.2,316.7 210.2,317.7 210.3,318.7 210.3,319.7 210.4,320.7 210.4,321.7 210.5,322.7 210.5,323.7 210.6,324.7 210.6,325.7 210.7,326.7 210.7,327.7 210.8,328.7 210.8,329.7 210.8,330.7 210.9,331.7 210.9,332.7 211.0,333.7 211.0,334.7 211.1,335.7 211.1,336.7 211.2,337.7 211.2,338.7 211.3,339.7 211.3,340.7 211.4,341.7 211.4,342.7 211.5,343.7 211.5,344.7 211.6,345.7 211.6,346.7 211.7,347.7 211.7,348.7 211.8,349.7 211.8,350.7 211.9,351.7 211.9,352.7 211.9,353.7 212.0,354.7 212.0,355.7 212.1,356.7 212.1,357.7 212.2,358.7 212.2,359.7 212.3,360.7 212.3,361.7 212.3,362.7 212.4,363.7 212.4,364.7 212.5,365.7 212.5,366.7 212.6,367.7 212.6,368.7 212.7,369.7 212.7,370.7 212.8,371.7 212.8,372.7 212.9,373.7 212.9,374.7 213.0,375.7 213.0,376.7 213.1,377.7 213.1,378.7 213.2,379.7 213.2,380.7 213.3,381.7 213.3,382.7 213.4,383.7 213.5,384.7 213.5,385.7 213.6,386.7 213.6,387.7 213.7,388.7 213.8,389.7 213.8,390.7 213.9,391.7 214.0,392.6 214.0,393.6 214.1,394.6 214.2,395.6 214.2,396.6 214.3,397.6 214.4,398.6 214.5,399.6 214.6,400.6 214.6,401.6 214.7,402.6 214.8,403.6 214.9,404.6 215.0,405.6 215.1,406.6 215.2,407.6 215.3,408.6 215.4,409.6 215.5,410.6 215.6,411.6 215.7,412.6 215.8,413.6 215.9,414.6 216.0,415.6 216.1,416.6 216.2,417.5 216.3,418.5 216.4,419.5 216.5,420.5 216.6,421.5 216.7,422.5 216.8,423.5 216.9,424.5 217.1,425.5 217.2,426.5 217.3,427.5 217.4,428.5 217.5,429.5 217.6,430.5 217.7,431.5 217.9,432.5 218.0,433.4 218.1,434.4 218.2,435.4 218.3,436.4 218.4,437.4 218.5,438.4 218.7,439.4 218.8,440.4 218.9,441.4 219.0,442.4 219.1,443.4 219.2,444.4 219.3,445.4 219.4,446.4 219.5,447.4 219.6,448.4 219.7,449.4 219.8,450.3 219.9,451.3 220.0,452.3 220.1,453.3 220.2,454.3 220.3,455.3 220.4,456.3 220.5,457.3 220.6,458.3 220.8,459.3 220.9,460.3 221.0,461.3 221.1,462.3 221.2,463.3 221.3,464.3 221.4,465.3 221.5,466.3 221.6,467.3 221.7,468.3 221.8,469.2 221.9,470.2 222.0,471.2 222.1,472.2 222.2,473.2 222.3,474.2 222.4,475.2 222.5,476.2 222.6,477.2 222.7,478.2 222.8,479.2 222.9,480.2 222.9,481.2 223.0,482.2 223.1,483.2 223.2,484.2 223.3,485.2 223.4,486.2 223.5,487.2 223.6,488.2 223.7,489.2 223.8,490.1 223.9,491.1 224.0,492.1 224.1,493.1 224.2,494.1 224.3,495.1 224.4,496.1 224.4,497.1 224.5,498.1 224.6,499.1 224.7,500.1 224.8,501.1 224.9,502.1 225.0,503.1 225.0,504.1 225.1,505.1 225.2,506.1 225.3,507.1 225.4,508.1 225.5,509.1 225.5,510.1 225.6,511.1 225.7,512.1 225.8,513.1 225.8,514.1 225.9,515.1 226.0,516.1 226.1,517.1 226.1,518.0 226.2,519.0 226.3,520.0 226.4,521.0 226.4,522.0 226.5,523.0 226.6,524.0 226.6,525.0 226.7,526.0 226.8,527.0 226.9,528.0 226.9,529.0 227.0,530.0 227.1,531.0 227.2,532.0 227.2,533.0 227.3,534.0 227.4,535.0 227.4,536.0 227.5,537.0 227.6,538.0 227.7,539.0 227.7,540.0 227.8,541.0 227.9,542.0 228.0,543.0 228.0,544.0 228.1,545.0 228.2,546.0 228.3,547.0 228.4,548.0 228.4,549.0 228.5,550.0 228.6,551.0 228.7,552.0 228.8,552.9 228.9,553.9 228.9,554.9 229.0,555.9 229.1,556.9 229.2,557.9 229.3,558.9 229.4,559.9 229.5,560.9 229.6,561.9 229.7,562.9 229.8,563.9 229.9,564.9 230.0,565.9 230.1,566.9 230.2,567.9 230.3,568.9 230.4,569.9 230.4,570.9 230.5,571.9 230.6,572.9 230.7,573.9 230.8,574.9 231.0,575.8 231.1,576.8 231.2,577.8 231.3,578.8 231.4,579.8 231.5,580.8 231.6,581.8 231.7,582.8 231.8,583.8 231.9,584.8 232.0,585.8 232.2,586.8 232.3,587.8 232.4,588.8 232.5,589.8 232.7,590.7 232.8,591.7 232.9,592.7 233.0,593.7 233.2,594.7 233.3,595.7 233.4,596.7 233.6,597.7 233.7,598.7 233.9,599.7 234.0,600.7 234.1,601.6 234.3,602.6 234.4,603.6 234.6,604.6 234.7,605.6 234.9,606.6 235.1,607.6 235.2,608.6 235.4,609.6 235.5,610.5 235.7,611.5 235.8,612.5 236.0,613.5 236.2,614.5 236.3,615.5 236.5,616.5 236.7,617.4 236.8,618.4 237.0,619.4 237.2,620.4 237.3,621.4 237.5,622.4 237.7,623.4 237.9,624.3 238.0,625.3 238.2,626.3 238.4,627.3 238.6,628.3 238.7,629.3 238.9,630.3 239.1,631.2 239.3,632.2 239.4,633.2 239.6,634.2 239.8,635.2 240.0,636.2 240.2,637.1 240.4,638.1 240.5,639.1 240.7,640.1 240.9,641.1 241.1,642.1 241.3,643.0 241.5,644.0 241.6,645.0 241.8,646.0 242.0,647.0 242.2,647.9 242.4,648.9 242.6,649.9 242.8,650.9 243.0,651.9 243.2,652.9 243.3,653.8 243.5,654.8 243.7,655.8 243.9,656.8 244.1,657.8 244.3,658.7 244.5,659.7 244.7,660.7 244.9,661.7 245.1,662.7 245.4,663.6 245.6,664.6 245.8,665.6 246.0,666.6 246.3,667.5 246.5,668.5 246.8,669.5 247.0,670.4 247.3,671.4 247.5,672.4 247.8,673.3 248.1,674.3 248.4,675.2 248.7,676.2 249.0,677.2 249.3,678.1 249.6,679.1 249.9,680.0 250.2,681.0 250.5,681.9 250.8,682.9 251.1,683.8 251.4,684.8 251.7,685.7 252.0,686.7 252.3,687.7 252.5,688.6 252.8,689.6 253.1,690.5 253.3,691.5 253.6,692.5 253.8,693.4 254.0,694.4 254.3,695.4 254.5,696.4 254.7,697.3 254.9,698.3 255.1,699.3 255.3,700.3 255.6,701.3 255.8,702.2 256.0,703.2 256.3,704.2 256.5,705.1 256.8,706.1 257.0,707.1 257.3,708.0 257.6,709.0 257.9,709.9 258.3,710.9 258.6,711.8 259.0,712.8 259.3,713.7 259.7,714.6 260.0,715.5 260.4,716.5 260.8,717.4 261.2,718.3 261.6,719.2 262.0,720.1 262.4,721.1 262.8,722.0 263.3,722.9 263.7,723.8 264.2,724.6 264.6,725.5 265.1,726.4 265.6,727.3 266.1,728.2 266.6,729.0 267.1,729.9 267.6,730.7 268.2,731.6 268.7,732.4 269.2,733.3 269.8,734.1 270.4,734.9 271.0,735.7 271.5,736.5 272.1,737.4 272.7,738.2 273.3,739.0 273.9,739.8 274.5,740.6 275.1,741.4 275.7,742.0 276.3,743.1 276.8,744.0 277.4,744.5 278.0,745.6 278.6,747.1 279.3,747.7 279.9,748.3 280.5,749.1 281.1,748.6 281.7,751.2 282.4,749.2 283.0,751.3 283.6,751.8 284.2,750.7 284.8,753.5 285.4,756.9 286.1,754.7 286.7,754.1 287.3,756.9 287.9,759.6 288.5,759.1 289.2,759.5 289.8,757.2 290.5,762.2 291.2,762.9 291.8,765.3 292.5,766.2 293.3,764.9 294.1,760.1 294.9,761.4 295.7,763.0 296.6,766.8 297.5,764.9 298.4,769.8 299.4,767.6 300.3,768.0 301.3,769.1 302.3,768.3 303.2,764.2 304.1,772.1 305.1,769.4 306.1,769.3 307.1,764.6 307.9,762.9 308.7,764.4 309.4,766.2 310.1,771.2 310.9,772.0 311.7,773.8 312.7,775.5 313.7,772.0 314.7,771.5 315.7,769.7 316.7,769.4 317.6,767.1 318.6,770.3 319.5,769.4 320.4,767.2 321.2,765.8 322.0,768.5 322.9,770.4 323.7,767.7 324.6,767.7 325.5,765.0 326.4,764.9 327.3,764.1 328.2,763.6 329.0,762.3 329.9,764.0 330.8,765.6 331.7,760.4 332.6,765.2 333.5,760.9 334.4,760.5 335.4,756.2 336.3,755.3 337.3,762.2 338.2,758.0 339.2,762.0 340.1,759.8 341.0,759.8 342.0,761.6 342.9,758.2 343.9,750.9 344.8,754.0 345.8,759.7 346.8,761.7 347.8,756.8 348.8,755.3 349.7,753.6 350.6,757.6 351.5,752.0 352.3,752.4 353.3,754.8 354.2,754.2 355.1,753.4 356.1,756.3 357.0,751.2 357.9,751.1 358.9,752.6 359.8,753.4 360.7,751.8 361.6,755.9 362.6,749.3 363.5,751.3 364.4,748.0 365.3,749.5 366.2,747.4 367.1,747.6 368.0,752.0 368.8,747.6 369.7,752.1 370.6,746.7 371.6,747.5 372.6,750.0 373.5,742.9 374.5,743.5 375.4,745.4 376.3,745.5 377.1,745.0 377.9,743.5 378.7,741.5 379.3,743.1 379.8,742.6 380.0,739.9 380.0,740.2 380.1,740.4 380.3,738.1 380.8,737.3 381.5,736.5 382.3,735.6 383.2,735.2 384.1,734.8 385.0,733.3 385.9,733.3 386.8,732.6 387.7,731.6 388.6,733.3 389.5,733.2 390.3,732.6 391.1,729.8 391.9,731.1 392.7,730.8 393.5,729.1 394.2,729.4 395.0,727.1 395.7,726.3 396.5,725.9 397.2,725.4 398.0,724.6 398.8,725.7 399.6,723.4 400.4,723.2 401.2,722.4 402.0,724.2 402.9,721.0 403.8,721.6 404.7,722.2 405.6,719.6 406.6,719.8 407.5,720.2 408.5,719.1 409.4,720.7 410.3,718.8 411.1,719.4 411.9,718.6 412.7,717.6 413.4,717.8 414.0,716.2 414.7,716.3 415.4,713.4 416.0,713.0 416.7,713.6 417.4,710.1 418.1,711.4 418.8,710.0 419.6,709.1 420.4,708.4 421.2,709.4 422.0,706.5 422.9,707.8 423.7,707.0 424.5,705.8 425.4,705.6 426.2,705.7 427.1,704.0 427.9,702.6 428.7,703.4 429.6,702.0 430.4,701.9 431.3,701.9 432.1,702.0 433.0,702.5 433.9,700.9 434.7,700.3 435.6,700.5 436.5,699.6 437.4,697.7 438.3,698.1 439.2,697.1 440.1,698.1 441.0,698.0 441.9,696.4 442.8,694.5 443.6,695.2 444.5,693.3 445.3,694.1 446.1,692.7 447.0,692.3 447.8,691.8 448.6,692.4 449.4,691.3 450.2,691.7 451.0,689.9 451.8,690.9 452.6,689.6 453.4,690.5 454.2,689.6 455.0,688.0 455.8,687.5 456.7,686.8 457.5,686.2 458.3,684.8 459.2,685.2 460.0,683.4 460.9,681.8 461.8,683.1 462.8,682.9 463.7,683.9 464.6,683.9 465.5,683.3 466.5,682.6 467.4,681.9 468.3,680.8 469.2,680.1 470.0,680.2 470.9,680.4 471.7,678.2 472.6,679.2 473.4,678.2 474.2,678.3 475.0,676.5 475.8,676.1 476.6,674.7 477.4,675.1 478.2,673.4 479.0,673.1 479.8,673.0 480.6,671.0 481.5,671.1 482.3,672.6 483.1,671.3 484.0,670.5 484.9,670.8 485.7,669.3 486.6,668.7 487.4,668.2 488.3,666.5 489.2,668.1 490.0,666.7 490.9,666.2 491.8,665.4 492.7,664.7 493.5,662.9 494.4,664.4 495.3,665.4 496.2,663.7 497.1,661.9 498.0,660.5 498.9,661.1 499.8,661.3 500.7,660.7 501.6,661.0 502.5,659.0 503.4,660.1 504.3,658.8 505.1,658.0 506.0,657.9 506.9,658.1 507.8,657.9 508.7,656.8 509.6,656.6 510.5,657.7 511.4,654.3 512.3,653.8 513.2,655.3 514.2,654.1 515.1,654.7 516.0,653.1 517.0,654.1 518.0,654.6 518.9,654.1 519.9,652.1 520.9,652.4 521.8,653.1 522.8,653.6 523.8,651.0 524.7,650.7 525.7,651.9 526.6,650.2 527.5,649.3 528.5,650.5 529.4,648.1 530.3,648.6 531.3,649.6 532.2,647.9 533.2,648.6 534.1,646.7 535.1,648.2 536.1,647.9 537.0,648.8 538.0,647.0 539.0,646.6 540.0,646.5 540.9,647.4 541.9,645.9 542.9,646.3 543.9,647.5 544.9,645.9 545.9,645.2 546.8,644.4 547.8,645.8 548.8,644.5 549.8,643.8 550.8,643.7 551.7,645.0 552.7,643.7 553.7,642.7 554.7,642.9 555.7,643.4 556.6,643.9 557.6,641.9 558.6,643.5 559.6,643.0 560.6,641.8 561.5,641.8 562.5,642.2 563.5,641.9 564.5,641.8 565.4,641.1 566.4,640.6 567.4,641.0 568.4,640.4 569.4,640.1 570.3,640.0 571.3,639.9 572.3,639.8 573.3,639.7 574.3,639.8 575.3,639.8 576.3,639.7 577.3,639.5 578.2,639.3 579.2,639.1 580.2,639.0 581.2,638.8 582.2,638.7 583.2,638.6 584.2,638.5 585.2,638.4 586.2,638.3 587.2,638.1 588.2,638.0 589.2,637.9 590.2,637.8 591.2,637.7 592.2,637.6 593.1,637.5 594.1,637.4 595.1,637.3 596.1,637.2 597.1,637.1 598.1,637.0 599.1,636.9 600.1,636.7 601.1,636.6 602.1,636.5 603.1,636.4 604.1,636.3 605.1,636.2 606.1,636.1 607.1,636.0 608.1,635.8 609.1,635.7 610.0,635.6 611.0,635.5 612.0,635.4 613.0,635.3 614.0,635.2 615.0,635.1 616.0,635.1 617.0,635.0 618.0,634.9 619.0,634.8 620.0,634.7 621.0,634.7 622.0,634.6 623.0,634.5 624.0,634.5 625.0,634.4 626.0,634.3 627.0,634.3 628.0,634.2 629.0,634.2 630.0,634.1 631.0,634.1 632.0,634.0 633.0,634.0 634.0,634.0 635.0,633.9 636.0,633.9 637.0,633.9 638.0,633.8 639.0,633.8 640.0,633.8 641.0,633.8 642.0,633.8 643.0,633.7 644.0,633.7 645.0,633.7 646.0,633.7 647.0,633.7 648.0,633.7 649.0,633.7 650.0,633.7 651.0,633.7 652.0,633.7 653.0,633.7 654.0,633.7 655.0,633.7 656.0,633.7 657.0,633.7 658.0,633.7 659.0,633.7 660.0,633.7 661.0,633.7 662.0,633.7 663.0,633.7 664.0,633.7 665.0,633.8 666.0,633.8 667.0,633.8 668.0,633.8 669.0,633.8 670.0,633.8 671.0,633.8 672.0,633.9 673.0,633.9 674.0,633.9 675.0,633.9 676.0,634.0 677.0,634.0 678.0,634.0 679.0,634.1 680.0,634.1 681.0,634.2 682.0,634.2 683.0,634.3 684.0,634.3 685.0,634.3 686.0,634.4 687.0,634.4 688.0,634.5 689.0,634.5 690.0,634.5 691.0,634.6 692.0,634.6 693.0,634.6 694.0,634.6 695.0,634.7 696.0,634.7 697.0,634.7 698.0,634.7 699.0,634.7 700.0,634.8 701.0,634.8 702.0,634.8 703.0,634.8 704.0,634.8 705.0,634.8 706.0,634.8 707.0,634.8 708.0,634.9 709.0,634.9 710.0,634.9 711.0,634.9 712.0,634.9 713.0,634.9 714.0,634.9 715.0,634.9 716.0,634.9 717.0,635.0 718.0,635.0 719.0,635.0 720.0,635.0 721.0,635.0 722.0,635.0 723.0,635.0 724.0,635.0 725.0,635.1 726.0,635.1 727.0,635.1 728.0,635.1 729.0,635.1 730.0,635.2 731.0,635.2 732.0,635.2 733.0,635.2 734.0,635.3 735.0,635.3 736.0,635.3 737.0,635.3 738.0,635.4 739.0,635.4 740.0,635.5 741.0,635.5 742.0,635.5 743.0,635.6 744.0,635.6 745.0,635.7 745.9,635.7 746.9,635.8 747.9,635.8 748.9,635.9 749.9,635.9 750.9,636.0 751.9,636.1 752.9,636.1 753.9,636.2 754.9,636.2 755.9,636.3 756.9,636.3 757.9,636.4 758.9,636.4 759.9,636.5 760.9,636.5 761.9,636.6 762.9,636.7 763.9,636.7 764.9,636.8 765.9,636.8 766.9,636.9 767.9,636.9 768.9,637.0 769.9,637.0 770.9,637.1 771.9,637.1 772.9,637.2 773.9,637.2 774.9,637.3 775.9,637.3 776.9,637.4 777.9,637.5 778.9,637.5 779.9,637.6 780.9,637.6 781.9,637.7 782.9,637.7 783.9,637.8 784.9,637.8 785.9,637.9 786.9,638.0 787.9,638.0 788.9,638.1 789.9,638.1 790.9,638.2 791.9,638.3 792.9,638.3 793.9,638.4 794.9,638.5 795.9,638.5 796.9,638.6 797.9,638.7 798.9,638.7 799.9,638.8 800.9,638.9 801.9,639.0 802.9,639.0 803.8,639.1 804.8,639.2 805.8,639.3 806.8,639.3 807.8,639.4 808.8,639.5 809.8,639.6 810.8,639.6 811.8,639.7 812.8,639.8 813.8,639.9 814.8,639.9 815.8,640.0 816.8,640.1 817.8,640.2 818.8,640.2 819.8,640.3 820.8,640.3 821.8,640.4 822.8,640.5 823.8,640.5 824.8,640.6 825.8,640.6 826.8,640.7 827.8,640.8 828.8,640.8 829.8,640.9 830.8,640.9 831.8,641.0 832.8,641.0 833.8,641.1 834.8,641.1 835.8,641.2 836.8,641.2 837.8,641.3 838.8,641.3 839.8,641.4 840.8,641.4 841.8,641.5 842.8,641.5 843.8,641.6 844.8,641.6 845.8,641.7 846.8,641.7 847.8,641.8 848.8,641.8 849.8,641.9 850.8,642.0 851.8,642.0 852.8,642.1 853.8,642.1 854.8,642.2 855.8,642.2 856.8,642.3 857.8,642.3 858.7,642.4 859.7,642.5 860.7,642.5 861.7,642.6 862.7,642.6 863.7,642.7 864.7,642.7 865.7,642.8 866.7,642.9 867.7,642.9 868.7,643.0 869.7,643.0 870.7,643.1 871.7,643.1 872.7,643.2 873.7,643.2 874.7,643.3 875.7,643.4 876.7,643.4 877.7,643.5 878.7,643.5 879.7,643.6 880.7,643.6 881.7,643.7 882.7,643.8 883.7,643.8 884.7,643.9 885.7,643.9 886.7,644.0 887.7,644.0 888.7,644.1 889.7,644.1 890.7,644.2 891.7,644.2 892.7,644.3 893.7,644.4 894.7,644.4 895.7,644.5 896.7,644.5 897.7,644.6 898.7,644.6 899.7,644.7 900.7,644.7 901.7,644.8 902.7,644.8 903.7,644.9 904.7,645.0 905.7,645.0 906.7,645.1 907.7,645.1 908.7,645.2 909.7,645.2 910.7,645.3 911.7,645.3 912.7,645.4 913.7,645.5 914.7,645.5 915.7,645.6 916.7,645.6 917.7,645.7 918.7,645.7 919.7,645.8 920.7,645.8 921.7,645.9 922.7,645.9 923.6,646.0 924.6,646.1 925.6,646.1 926.6,646.2 927.6,646.2 928.6,646.3 929.6,646.3 930.6,646.4 931.6,646.5 932.6,646.5 933.6,646.6 934.6,646.6 935.6,646.7 936.6,646.7 937.6,646.8 938.6,646.8 939.6,646.9 940.6,647.0 941.6,647.0 942.6,647.1 943.6,647.1 944.6,647.2 945.6,647.2 946.6,647.3 947.6,647.3 948.6,647.4 949.6,647.5 950.6,647.5 951.6,647.6 952.6,647.6 953.6,647.7 954.6,647.7 955.6,647.8 956.6,647.8 957.6,647.9 958.6,647.9 959.6,648.0 960.6,648.0 961.6,648.1 962.6,648.1 963.6,648.2 964.6,648.2 965.6,648.3 966.6,648.3 967.6,648.4 968.6,648.4 969.6,648.5 970.6,648.5 971.6,648.6 972.6,648.6 973.6,648.7 974.6,648.7 975.6,648.8 976.6,648.8 977.6,648.9 978.6,648.9 979.6,649.0 980.6,649.0 981.6,649.1 982.6,649.1 983.6,649.1 984.6,649.2 985.6,649.2 986.6,649.3 987.6,649.3 988.6,649.4 989.6,649.4 990.6,649.4 991.6,649.5 992.6,649.5 993.6,649.6 994.6,649.6 995.6,649.6 996.6,649.7 997.6,649.7 998.6,649.7 999.6,649.8 1000.6,649.8 1001.6,649.9 1002.6,649.9 1003.6,649.9 1004.6,649.9 1005.5,650.0 1006.5,650.0 1007.5,650.0 1008.5,650.1 1009.5,650.1 1010.5,650.1 1011.5,650.2 1012.5,650.2 1013.5,650.2 1014.5,650.2 1015.5,650.3 1016.5,650.3 1017.5,650.3 1018.5,650.3 1019.5,650.4 1020.5,650.4 1021.5,650.4 1022.5,650.4 1023.5,650.5 1024.5,650.5 1025.5,650.5 1026.5,650.5 1027.5,650.5 1028.5,650.6 1029.5,650.6 1030.5,650.6 1031.5,650.6 1032.5,650.6 1033.5,650.7 1034.5,650.7 1035.5,650.7 1036.5,650.7 1037.5,650.8 1038.5,650.8 1039.5,650.8 1040.5,650.8 1041.5,650.8 1042.5,650.9 1043.5,650.9 1044.5,650.9 1045.5,650.9 1046.5,650.9 1047.5,651.0 1048.5,651.0 1049.5,651.0 1050.5,651.0 1051.5,651.0 1052.5,651.1 1053.5,651.1 1054.5,651.1 1055.5,651.1 1056.5,651.1 1057.5,651.1 1058.5,651.2 1059.5,651.2 1060.5,651.2 1061.5,651.2 1062.5,651.2 1063.5,651.3 1064.5,651.3 1065.5,651.3 1066.5,651.3 1067.5,651.3 1068.5,651.4 1069.5,651.4 1070.5,651.4 1071.5,651.4 1072.5,651.4 1073.5,651.4 1074.5,651.5 1075.5,651.5 1076.5,651.5 1077.5,651.5 1078.5,651.5 1079.5,651.5 1080.5,651.5 1081.5,651.6 1082.5,651.6 1083.5,651.6 1084.5,651.6 1085.5,651.6 1086.5,651.6 1087.5,651.6 1088.5,651.7 1089.5,651.7 1090.5,651.7 1091.5,651.7 1092.5,651.7 1093.5,651.7 1094.5,651.7 1095.5,651.7 1096.5,651.8 1097.5,651.8 1098.5,651.8 1099.5,651.8 1100.5,651.8 1101.5,651.8 1102.5,651.8 1103.5,651.8 1104.5,651.8 1105.5,651.9 1106.5,651.9 1107.5,651.9 1108.5,651.9 1109.5,651.9 1110.5,651.9 1111.5,651.9 1112.5,651.9 1113.5,651.9 1114.5,651.9 1115.5,652.0 1116.5,652.0 1117.5,652.0 1118.5,652.0 1119.5,652.0 1120.5,652.0 1121.5,652.0 1122.5,652.0 1123.5,652.0 1124.5,652.0 1125.5,652.0 1126.5,652.0 1127.5,652.0 1128.5,652.1 1129.5,652.1 1130.5,652.1 1131.5,652.1 1132.5,652.1 1133.5,652.1 1134.5,652.1 1135.5,652.1 1136.5,652.1 1137.5,652.1 1138.5,652.1 1139.5,652.1 1140.5,652.1 1141.5,652.1 1142.5,652.1 1143.5,652.2 1144.5,652.2 1145.5,652.2 1146.5,652.2 1147.5,652.2 1148.5,652.2 1149.5,652.2 1150.5,652.2 1151.5,652.2 1152.5,652.2 1153.5,652.2 1154.5,652.2 1155.5,652.2 1156.5,652.2 1157.5,652.2 1158.5,652.2 1159.5,652.2 1160.5,652.2 1161.5,652.3 1162.5,652.3 1163.5,652.3 1164.5,652.3 1165.5,652.3 1166.5,652.3 1167.5,652.3 1168.5,652.3 1169.5,652.3 1170.5,652.3 1171.5,652.3 1172.5,652.3 1173.5,652.3 1174.5,652.3 1175.5,652.3 1176.5,652.3 1177.5,652.3 1178.5,652.3 1179.5,652.3 1180.5,652.3 1181.5,652.3 1182.5,652.3 1183.5,652.3 1184.5,652.3 1185.5,652.4 1186.5,652.4 1187.5,652.4 1188.5,652.4 1189.5,652.4 1190.5,652.4 1191.5,652.4 1192.5,652.4 1193.5,652.4 1194.5,652.4 1195.5,652.4 1196.5,652.4 1197.5,652.4 1198.5,652.4 1199.5,652.4 1200.5,652.4 1201.5,652.4 1202.5,652.4 1203.5,652.4 1204.5,652.4 1205.5,652.4 1206.5,652.4 1207.5,652.4 1208.5,652.4 1209.5,652.4 1210.5,652.4 1211.5,652.4 1212.5,652.4 1213.5,652.4 1214.5,652.4 1215.5,652.4 1216.5,652.4 1217.5,652.4 1218.5,652.4 1219.5,652.4 1220.5,652.5 1221.5,652.5 1222.5,652.5 1223.5,652.5 1224.5,652.5 1225.5,652.5 1226.5,652.5 1227.5,652.5 1228.5,652.5 1229.5,652.5 1230.5,652.5 1231.5,652.5 1232.5,652.5 1233.5,652.5 1234.5,652.5 1235.5,652.5 1236.5,652.5 1237.5,652.5 1238.5,652.5 1239.5,652.5 1240.5,652.5 1241.5,652.5 1242.5,652.5 1243.5,652.5 1244.5,652.5 1245.5,652.5 1246.5,652.5 1247.5,652.5 1248.5,652.5 1249.5,652.5 1250.5,652.5 1251.5,652.5 1252.5,652.5 1253.5,652.5 1254.5,652.5 1255.5,652.5 1256.5,652.5 1257.5,652.5 1258.5,652.5 1259.5,652.5 1260.5,652.5 1261.5,652.5 1262.5,652.5 1263.5,652.5 1264.5,652.5 1265.5,652.5 1266.5,652.5 1267.5,652.5 1268.5,652.5 1269.5,652.5 1270.5,652.5 1271.5,652.5 1272.5,652.5 1273.5,652.5 1274.5,652.5 1275.5,652.5 1276.5,652.5 1277.5,652.5 1278.5,652.5 1279.5,652.5 1280.5,652.5 1281.5,652.5 1282.5,652.5 1283.5,652.5 1284.5,652.5 1285.5,652.5 1286.5,652.5 1287.5,652.5 1288.5,652.5 1289.5,652.5 1290.5,652.5 1291.5,652.5 1292.5,652.5 1293.5,652.5 1294.5,652.5 1295.5,652.5 1296.5,652.5 1297.5,652.5 1298.5,652.5 1299.5,652.5 1300.5,652.5 1301.5,652.5 1302.5,652.5 1303.5,652.5 1304.5,652.5 1305.5,652.5 1306.5,652.5 1307.5,652.5 1308.5,652.5 1309.5,652.5 1310.5,652.5 1311.5,652.5 1312.5,652.5 1313.5,652.5 1314.5,652.5 1315.5,652.5 1316.5,652.5 1317.5,652.5 1318.5,652.5 1319.5,652.5 1320.5,652.5 1321.5,652.5 1322.5,652.5 1323.5,652.5 1324.5,652.5 1325.5,652.5 1326.5,652.5 1327.5,652.5 1328.5,652.5 1329.5,652.5 1330.5,652.5 1331.5,652.5 1332.5,652.5 1333.5,652.5 1334.5,652.5 1335.5,652.5 1336.5,652.5 1337.5,652.5 1338.5,652.5 1339.5,652.5 1340.5,652.5 1341.5,652.5 1342.5,652.5 1343.5,652.5 1344.5,652.5 1345.5,652.5 1346.5,652.5 1347.5,652.5 1348.5,652.5 1349.5,652.5 1350.5,652.5 1351.5,652.5 1352.5,652.5 1353.5,652.5 1354.5,652.5 1355.5,652.5 1356.5,652.5 1357.5,652.5 1358.5,652.5 1359.5,652.5 1360.5,652.5 1361.5,652.5 1362.5,652.5 1363.5,652.5 1364.5,652.5 1365.5,652.5 1366.5,652.5 1367.5,652.5 1368.5,652.5 1369.5,652.5 1370.5,652.5 1371.5,652.5 1372.5,652.5 1373.5,652.5 1374.5,652.5 1375.5,652.5 1376.5,652.5 1377.5,652.5 1378.5,652.5 1379.5,652.5 1380.5,652.5 1381.5,652.5 1382.5,652.5 1383.5,652.5 1384.5,652.5 1385.5,652.5 1386.5,652.5 1387.5,652.5 1388.5,652.5 1389.5,652.5 1390.5,652.5 1391.5,652.5 1392.5,652.5 1393.5,652.5 1394.5,652.5 1395.5,652.5 1396.5,652.5 1397.5,652.5 1398.5,652.5 1399.5,652.5 1400.5,652.5 1401.5,652.5 1402.5,652.5 1403.5,652.5 1404.5,652.5 1405.5,652.5 1406.5,652.5 1407.5,652.5 1408.5,652.5 1409.5,652.5 1410.5,652.5 1411.5,652.5 1412.5,652.5 1413.5,652.5 1414.5,652.5 1415.5,652.5 1416.5,652.5 1417.5,652.5 1418.5,652.5 1419.5,652.5 1420.5,652.5 1421.5,652.5 1422.5,652.5 1423.5,652.5 1424.5,652.5 1425.5,652.5 1426.5,652.5 1427.5,652.5 1428.5,652.5 1429.5,652.5 1430.5,652.5 1431.5,652.5 1432.5,652.5 1433.5,652.5 1434.5,652.5 1435.5,652.5 1436.5,652.5 1437.5,652.5 1438.5,652.5 1439.5,652.5 1440.5,652.5 1441.5,652.5 1442.5,652.5 1443.5,652.5 1444.5,652.5 1445.5,652.5 1446.5,652.5 1447.5,652.5 1448.5,652.5 1449.5,652.5 1450.5,652.5 1451.5,652.5 1452.5,652.5 1453.5,652.5 1454.5,652.5 1455.5,652.5" stroke="#000000"/>
<path d="M199.3,405.0 199.4,406.0 199.5,407.0 199.6,408.0 199.7,409.0 199.9,410.0 200.0,411.0 200.1,412.0 200.2,413.0 200.3,413.9 200.4,414.9 200.5,415.9 200.6,416.9 200.8,417.9 200.9,418.9 201.0,419.9 201.1,420.9 201.2,421.9 201.3,422.9 201.5,423.9 201.6,424.9 201.7,425.9 201.8,426.9 202.0,427.8 202.1,428.8 202.2,429.8 202.4,430.8 202.5,431.8 202.7,432.8 202.8,433.8 203.0,434.8 203.1,435.8 203.3,436.8 203.4,437.7 203.5,438.7 203.7,439.7 203.8,440.7 204.0,441.7 204.1,442.7 204.2,443.7 204.4,444.7 204.5,445.7 204.6,446.7 204.7,447.7 204.8,448.6 205.0,449.6 205.1,450.6 205.2,451.6 205.3,452.6 205.4,453.6 205.5,454.6 205.6,455.6 205.7,456.6 205.8,457.6 205.9,458.6 206.0,459.6 206.1,460.6 206.1,461.6 206.2,462.6 206.3,463.6 206.4,464.6 206.5,465.6 206.6,466.6 206.7,467.6 206.7,468.6 206.8,469.6 206.9,470.5 207.0,471.5 207.1,472.5 207.2,473.5 207.2,474.5 207.3,475.5 207.4,476.5 207.5,477.5 207.6,478.5 207.6,479.5 207.7,480.5 207.8,481.5 207.9,482.5 208.0,483.5 208.1,484.5 208.1,485.5 208.2,486.5 208.3,487.5 208.4,488.5 208.5,489.5 208.6,490.5 208.7,491.5 208.8,492.5 208.9,493.5 209.0,494.5 209.0,495.5 209.1,496.5 209.2,497.4 209.3,498.4 209.4,499.4 209.5,500.4 209.7,501.4 209.8,502.4 209.9,503.4 210.0,504.4 210.1,505.4 210.2,506.4 210.3,507.4 210.4,508.4 210.5,509.4 210.6,510.4 210.7,511.4 210.8,512.4 210.9,513.4 211.1,514.3 211.2,515.3 211.3,516.3 211.4,517.3 211.5,518.3 211.6,519.3 211.7,520.3 211.9,521.3 212.0,522.3 212.1,523.3 212.2,524.3 212.3,525.3 212.4,526.3 212.6,527.3 212.7,528.3 212.8,529.2 212.9,530.2 213.0,531.2 213.1,532.2 213.3,533.2 213.4,534.2 213.5,535.2 213.6,536.2 213.7,537.2 213.9,538.2 214.0,539.2 214.1,540.2 214.2,541.2 214.3,542.2 214.5,543.1 214.6,544.1 214.7,545.1 214.8,546.1 214.9,547.1 215.1,548.1 215.2,549.1 215.3,550.1 215.4,551.1 215.5,552.1 215.7,553.1 215.8,554.1 215.9,555.1 216.0,556.1 216.1,557.0 216.3,558.0 216.4,559.0 216.5,560.0 216.6,561.0 216.7,562.0 216.9,563.0 217.0,564.0 217.1,565.0 217.2,566.0 217.3,567.0 217.5,568.0 217.6,569.0 217.7,570.0 217.8,570.9 217.9,571.9 218.1,572.9 218.2,573.9 218.3,574.9 218.4,575.9 218.5,576.9 218.7,577.9 218.8,578.9 218.9,579.9 219.0,580.9 219.2,581.9 219.3,582.9 219.4,583.8 219.5,584.8 219.7,585.8 219.8,586.8 219.9,587.8 220.0,588.8 220.2,589.8 220.3,590.8 220.4,591.8 220.5,592.8 220.7,593.8 220.8,594.8 220.9,595.8 221.1,596.7 221.2,597.7 221.3,598.7 221.5,599.7 221.6,600.7 221.7,601.7 221.9,602.7 222.0,603.7 222.1,604.7 222.3,605.7 222.4,606.7 222.6,607.6 222.7,608.6 222.8,609.6 223.0,610.6 223.1,611.6 223.3,612.6 223.4,613.6 223.6,614.6 223.7,615.6 223.9,616.5 224.0,617.5 224.2,618.5 224.3,619.5 224.5,620.5 224.6,621.5 224.7,622.5 224.9,623.5 225.0,624.5 225.2,625.4 225.3,626.4 225.5,627.4 225.6,628.4 225.8,629.4 225.9,630.4 226.1,631.4 226.2,632.4 226.4,633.4 226.5,634.3 226.7,635.3 226.8,636.3 226.9,637.3 227.1,638.3 227.2,639.3 227.4,640.3 227.5,641.3 227.7,642.3 227.8,643.3 227.9,644.2 228.1,645.2 228.2,646.2 228.4,647.2 228.5,648.2 228.6,649.2 228.8,650.2 228.9,651.2 229.0,652.2 229.1,653.2 229.3,654.2 229.4,655.2 229.5,656.1 229.6,657.1 229.7,658.1 229.8,659.1 229.9,660.1 230.0,661.1 230.1,662.1 230.2,663.1 230.3,664.1 230.4,665.1 230.5,666.1 230.6,667.1 230.7,668.1 230.8,669.1 230.9,670.1 231.0,671.1 231.1,672.1 231.2,673.1 231.3,674.1 231.4,675.1 231.5,676.0 231.6,677.0 231.7,678.0 231.9,679.0 232.0,680.0 232.2,681.0 232.3,682.0 232.5,683.0 232.6,684.0 232.8,684.9 233.0,685.9 233.2,686.9 233.4,687.9 233.6,688.9 233.8,689.9 234.0,690.8 234.2,691.8 234.4,692.8 234.6,693.8 234.8,694.8 234.9,695.7 235.1,696.7 235.3,697.7 235.5,698.7 235.6,699.7 235.8,700.7 236.0,701.6 236.1,702.6 236.3,703.6 236.4,704.6 236.6,705.6 236.7,706.6 236.9,707.6 237.0,708.6 237.1,709.6 237.3,710.6 237.4,711.5 237.6,712.5 237.7,713.5 237.8,714.5 238.0,715.5 238.1,716.5 238.3,717.5 238.4,718.5 238.5,719.5 238.7,720.5 238.8,721.4 238.9,722.4 239.1,723.4 239.2,724.4 239.3,725.4 239.5,726.4 239.6,727.4 239.8,728.4 239.9,729.4 240.1,730.4 240.2,731.3 240.3,732.3 240.5,733.3 240.6,734.3 240.8,735.3 240.9,736.3 241.1,737.3 241.2,738.3 241.4,739.3 241.5,740.3 241.6,741.2 241.8,742.2 241.9,743.2 242.1,744.2 242.2,745.2 242.4,746.2 242.5,747.2 242.7,748.2 242.8,749.2 243.0,750.1 243.1,751.1 243.3,752.1 243.4,753.1 243.5,754.1 243.7,755.1 243.8,756.1 244.0,757.1 244.1,758.1 244.3,759.1 244.4,760.0 244.5,761.0 244.7,762.0 244.8,763.0 245.0,764.0 245.1,765.0 245.2,766.0 245.3,767.0 245.5,768.0 245.6,769.0 245.7,770.0 245.9,770.9 246.0,771.9 246.1,772.9 246.3,773.9 246.4,774.9 246.6,775.9 246.7,776.9 246.9,777.9 247.0,778.9 247.2,779.8 247.3,780.8 247.5,781.8 247.7,782.8 247.8,783.8 248.0,784.8 248.2,785.8 248.3,786.8 248.5,787.7 248.7,788.7 248.9,789.7 249.0,790.7 249.2,791.7 249.4,792.7 249.6,793.6 249.8,794.6 249.9,795.6 250.1,796.6 250.3,797.6 250.5,798.6 250.7,799.5 250.8,800.5 251.0,801.5 251.2,802.5 251.4,803.5 251.6,804.5 251.8,805.4 252.0,806.4 252.2,807.4 252.4,808.4 252.5,809.4 252.7,810.3 252.9,811.3 253.1,812.3 253.3,813.3 253.5,814.3 253.7,815.2 253.9,816.2 254.1,817.2 254.3,818.2 254.5,819.2 254.8,820.1 255.0,821.1 255.2,822.1 255.4,823.1 255.6,824.0 255.8,825.0 256.1,826.0 256.3,827.0 256.5,827.9 256.7,828.9 256.9,829.9 257.1,830.9 257.4,831.9 257.6,832.8 257.8,833.8 258.0,834.8 258.1,835.8 258.3,836.8 258.5,837.7 258.7,838.7 258.9,839.7 259.0,840.7 259.2,841.7 259.4,842.7 259.5,843.7 259.7,844.6 259.9,845.6 260.0,846.6 260.2,847.6 260.4,848.6 260.5,849.6 260.7,850.6 260.9,851.5 261.1,852.5 261.2,853.5 261.4,854.5 261.6,855.5 261.8,856.4 262.0,857.4 262.2,858.4 262.5,859.4 262.7,860.4 262.9,861.3 263.1,862.3 263.3,863.3 263.6,864.3 263.8,865.2 264.0,866.2 264.3,867.2 264.5,868.1 264.7,869.1 265.0,870.1 265.2,871.1 265.5,872.0 265.7,873.0 266.0,874.0 266.3,874.9 266.5,875.9 266.8,876.8 267.1,877.8 267.4,878.8 267.7,879.7 268.0,880.7 268.3,881.6 268.6,882.6 268.9,883.5 269.2,884.5 269.5,885.4 269.8,886.4 270.1,887.3 270.5,888.4 270.8,889.3 271.1,890.0 271.5,891.0 271.8,892.2 272.2,893.0 272.6,894.2 272.9,894.2 273.3,896.5 273.7,897.4 274.1,897.0 274.5,898.4 274.9,899.1 275.3,900.1 275.7,901.9 276.1,901.8 276.6,902.4 277.0,904.5 277.4,906.0 277.9,905.4 278.3,907.0 278.8,906.2 279.3,909.5 279.8,911.8 280.2,910.9 280.7,911.0 281.2,909.5 281.7,912.4 282.2,911.0 282.7,915.7 283.2,918.0 283.7,918.4 284.2,917.5 284.7,918.9 285.2,917.9 285.7,920.2 286.3,921.0 286.8,921.3 287.4,917.7 288.0,923.2 288.6,924.2 289.3,922.9 290.0,925.5 290.7,926.7 291.4,922.4 292.2,928.1 293.0,926.3 293.8,925.7 294.6,928.3 295.5,927.2 296.3,928.1 297.2,927.6 298.1,928.2 299.1,927.4 300.0,928.4 301.0,928.4 302.0,928.7 303.0,933.3 304.0,932.0 305.0,932.9 306.0,935.3 307.0,933.8 308.0,932.8 309.0,931.0 309.9,933.9 310.9,933.1 311.9,933.6 312.9,932.1 313.8,932.1 314.7,929.6 315.7,933.2 316.6,928.5 317.4,928.9 318.3,929.4 319.1,927.8 319.9,926.7 320.7,926.7 321.5,922.8 322.3,925.9 323.0,928.0 323.7,927.8 324.4,922.5 325.1,925.0 325.8,922.6 326.4,918.6 327.1,916.6 327.8,918.5 328.4,920.8 329.1,919.2 329.8,916.6 330.4,917.5 331.1,917.7 331.8,914.6 332.4,912.6 333.1,913.0 333.7,908.3 334.3,912.1 335.0,908.7 335.6,910.4 336.2,910.3 336.8,908.1 337.5,905.7 338.1,904.9 338.7,905.5 339.3,901.1 339.8,901.7 340.4,903.7 341.0,904.3 341.6,902.9 342.1,901.7 342.7,902.6 343.2,899.7 343.8,902.7 344.3,900.4 344.9,900.3 345.4,894.5 346.0,894.3 346.5,893.6 347.1,891.0 347.6,891.1 348.2,892.8 348.7,889.4 349.3,890.4 349.9,893.2 350.4,891.0 351.0,891.2 351.6,889.3 352.2,887.2 352.8,886.6 353.4,886.6 354.1,884.2 354.7,884.3 355.4,882.5 356.0,882.2 356.7,883.9 357.3,881.4 358.0,877.2 358.6,878.1 359.2,880.4 359.8,879.4 360.4,873.7 360.9,875.7 361.5,874.3 362.0,869.4 362.5,873.4 363.0,875.5 363.5,870.1 364.0,869.9 364.4,871.0 364.9,867.8 365.4,866.9 365.9,867.2 366.4,863.6 366.9,866.2 367.4,862.5 367.9,864.1 368.4,864.8 369.0,865.5 369.5,860.7 370.1,861.6 370.7,860.8 371.3,856.6 371.9,858.6 372.4,858.1 373.0,857.4 373.6,858.6 374.2,854.3 374.8,852.9 375.4,851.9 375.9,851.2 376.5,851.3 377.1,852.3 377.7,847.2 378.2,848.1 378.8,843.3 379.4,843.7 379.9,845.9 380.5,841.3 381.1,844.5 381.6,845.0 382.2,840.5 382.7,839.7 383.3,839.8 383.8,837.9 384.4,837.9 384.9,836.2 385.4,838.1 386.0,836.5 386.5,835.2 387.0,830.9 387.5,832.7 388.1,833.2 388.6,833.5 389.1,830.6 389.6,831.9 390.1,831.5 390.6,828.5 391.1,830.0 391.6,827.8 392.1,825.6 392.6,826.6 393.1,828.2 393.7,825.9 394.2,824.6 394.7,825.2 395.2,824.3 395.7,822.7 396.2,818.4 396.7,816.0 397.2,816.1 397.7,820.1 398.2,817.2 398.7,812.2 399.2,815.0 399.7,810.8 400.2,812.8 400.7,813.4 401.2,811.2 401.7,812.1 402.2,811.4 402.7,806.2 403.2,807.7 403.7,807.5 404.2,804.8 404.7,802.4 405.2,806.1 405.7,803.9 406.2,802.3 406.8,801.6 407.3,802.6 407.8,803.9 408.3,800.8 408.9,800.7 409.4,799.1 410.0,797.2 410.5,796.2 411.0,795.0 411.6,793.3 412.1,792.3 412.7,793.4 413.3,793.2 413.8,791.9 414.4,790.3 414.9,789.4 415.5,788.3 416.1,786.7 416.6,785.3 417.2,784.9 417.8,784.5 418.4,783.6 418.9,782.6 419.5,782.5 420.1,780.9 420.7,780.5 421.3,780.4 421.9,779.5 422.5,778.1 423.1,777.1 423.7,776.7 424.3,775.7 424.9,777.0 425.6,773.6 426.2,772.5 426.8,774.7 427.5,771.0 428.1,771.3 428.8,771.5 429.4,770.2 430.1,769.4 430.7,769.3 431.4,768.7 432.0,765.9 432.7,765.3 433.3,764.1 434.0,763.2 434.7,762.6 435.3,762.5 436.0,761.4 436.7,761.4 437.3,760.2 438.0,759.2 438.7,759.1 439.3,758.4 440.0,757.5 440.7,756.8 441.4,756.8 442.0,754.4 442.7,755.2 443.4,753.1 444.1,752.6 444.8,753.2 445.4,752.5 446.1,749.9 446.8,751.2 447.5,751.4 448.2,749.0 448.9,748.8 449.6,749.6 450.3,746.9 451.0,748.5 451.7,745.2 452.4,744.8 453.0,744.1 453.7,743.5 454.4,743.7 455.1,742.6 455.8,741.7 456.5,741.0 457.2,739.0 457.9,739.1 458.6,739.9 459.3,737.4 460.0,738.7 460.7,736.6 461.4,735.1 462.1,735.8 462.8,734.7 463.5,732.6 464.2,731.7 464.9,730.5 465.6,730.1 466.4,728.2 467.1,729.0 467.8,730.1 468.6,728.3 469.3,728.6 470.1,728.6 470.9,727.8 471.6,726.3 472.4,725.1 473.2,724.0 474.0,723.6 474.9,722.8 475.7,723.4 476.5,723.9 477.4,722.4 478.2,720.2 479.0,721.0 479.8,719.9 480.7,719.1 481.5,718.1 482.3,717.8 483.1,719.9 483.9,719.3 484.8,717.6 485.6,714.8 486.4,715.2 487.2,715.7 488.0,714.2 488.9,714.6 489.7,714.5 490.5,714.4 491.3,713.0 492.1,712.3 493.0,711.3 493.8,710.6 494.6,710.4 495.4,709.4 496.2,709.2 497.0,707.9 497.8,706.5 498.6,707.4 499.5,705.6 500.3,706.0 501.1,705.6 501.9,704.3 502.8,704.4 503.6,704.2 504.5,703.2 505.3,702.2 506.2,705.0 507.1,702.0 507.9,701.6 508.8,701.1 509.6,700.8 510.5,700.9 511.4,700.4 512.2,698.9 513.1,699.1 514.0,698.9 514.8,697.8 515.7,698.4 516.5,697.2 517.4,697.1 518.2,695.0 519.1,696.6 519.9,694.2 520.8,692.6 521.6,691.8 522.5,691.4 523.4,692.0 524.2,689.6 525.1,690.3 526.0,691.3 526.9,690.8 527.8,688.3 528.7,688.5 529.6,687.8 530.5,686.6 531.4,685.7 532.3,686.6 533.2,685.4 534.1,685.6 535.0,686.6 535.9,685.7 536.8,686.2 537.7,687.9 538.6,684.1 539.5,684.6 540.4,683.7 541.3,682.1 542.2,681.1 543.2,680.7 544.1,680.2 545.0,680.9 545.9,680.7 546.8,680.6 547.8,680.9 548.7,682.0 549.6,680.9 550.6,679.9 551.5,680.9 552.4,678.8 553.4,679.1 554.3,677.7 555.3,677.3 556.2,678.0 557.2,677.9 558.1,674.2 559.0,676.9 560.0,676.7 560.9,675.8 561.9,676.3 562.8,675.0 563.8,676.2 564.8,674.7 565.7,675.0 566.7,674.4 567.6,674.4 568.6,672.7 569.6,673.5 570.5,673.3 571.5,673.9 572.5,672.6 573.4,673.3 574.4,672.2 575.4,673.0 576.3,671.7 577.3,670.8 578.3,670.6 579.3,671.9 580.2,671.7 581.2,670.5 582.2,670.4 583.1,670.4 584.1,668.6 585.1,671.1 586.1,668.4 587.0,667.8 588.0,668.0 589.0,667.8 589.9,668.7 590.9,669.0 591.9,668.1 592.8,667.7 593.8,666.8 594.8,666.1 595.7,665.9 596.7,666.2 597.7,665.4 598.6,664.7 599.6,664.3 600.6,664.1 601.6,664.0 602.5,663.9 603.5,664.2 604.5,664.7 605.5,665.3 606.5,665.1 607.5,664.3 608.5,663.6 609.4,663.3 610.4,663.4 611.4,663.5 612.4,663.4 613.4,663.1 614.4,662.9 615.3,662.7 616.3,662.5 617.3,662.4 618.3,662.1 619.2,661.9 620.2,661.7 621.2,661.4 622.2,661.2 623.2,661.0 624.1,660.9 625.1,660.7 626.1,660.5 627.1,660.4 628.1,660.2 629.1,660.1 630.1,659.9 631.1,659.8 632.1,659.7 633.0,659.6 634.0,659.4 635.0,659.3 636.0,659.2 637.0,659.1 638.0,659.0 639.0,658.9 640.0,658.8 641.0,658.7 642.0,658.5 643.0,658.4 644.0,658.3 645.0,658.2 646.0,658.1 647.0,658.0 648.0,657.9 649.0,657.8 649.9,657.7 650.9,657.6 651.9,657.5 652.9,657.5 653.9,657.4 654.9,657.3 655.9,657.2 656.9,657.1 657.9,657.0 658.9,656.9 659.9,656.8 660.9,656.7 661.9,656.6 662.9,656.5 663.9,656.5 664.9,656.4 665.9,656.3 666.9,656.2 667.9,656.1 668.9,656.0 669.9,656.0 670.9,655.9 671.9,655.8 672.9,655.7 673.9,655.7 674.9,655.6 675.9,655.5 676.8,655.4 677.8,655.4 678.8,655.3 679.8,655.2 680.8,655.1 681.8,655.1 682.8,655.0 683.8,654.9 684.8,654.9 685.8,654.8 686.8,654.7 687.8,654.7 688.8,654.6 689.8,654.5 690.8,654.5 691.8,654.4 692.8,654.3 693.8,654.3 694.8,654.2 695.8,654.2 696.8,654.1 697.8,654.1 698.8,654.1 699.8,654.0 700.8,654.0 701.8,653.9 702.8,653.9 703.8,653.9 704.8,653.8 705.8,653.8 706.8,653.8 707.8,653.8 708.8,653.7 709.8,653.7 710.8,653.7 711.8,653.7 712.8,653.6 713.8,653.6 714.8,653.6 715.8,653.6 716.8,653.6 717.8,653.5 718.8,653.5 719.8,653.5 720.8,653.5 721.8,653.5 722.8,653.4 723.8,653.4 724.8,653.4 725.8,653.4 726.8,653.4 727.8,653.4 728.8,653.3 729.8,653.3 730.8,653.3 731.8,653.3 732.8,653.3 733.8,653.2 734.8,653.2 735.8,653.2 736.8,653.2 737.8,653.1 738.8,653.1 739.8,653.1 740.8,653.1 741.8,653.0 742.8,653.0 743.8,653.0 744.8,653.0 745.8,652.9 746.8,652.9 747.8,652.9 748.8,652.8 749.8,652.8 750.8,652.8 751.8,652.8 752.8,652.7 753.8,652.7 754.8,652.7 755.8,652.7 756.8,652.7 757.8,652.6 758.8,652.6 759.8,652.6 760.8,652.6 761.8,652.6 762.8,652.6 763.8,652.5 764.8,652.5 765.8,652.5 766.8,652.5 767.8,652.5 768.8,652.5 769.8,652.5 770.8,652.5 771.8,652.5 772.8,652.5 773.8,652.4 774.8,652.4 775.8,652.4 776.8,652.4 777.8,652.4 778.8,652.4 779.8,652.4 780.8,652.4 781.8,652.4 782.8,652.4 783.8,652.4 784.8,652.4 785.8,652.4 786.8,652.4 787.8,652.4 788.8,652.4 789.8,652.4 790.8,652.3 791.8,652.3 792.8,652.3 793.8,652.3 794.8,652.3 795.8,652.3 796.8,652.3 797.8,652.3 798.8,652.3 799.8,652.3 800.8,652.3 801.8,652.3 802.8,652.3 803.8,652.3 804.8,652.3 805.8,652.3 806.8,652.3 807.8,652.3 808.8,652.3 809.8,652.3 810.8,652.3 811.8,652.2 812.8,652.2 813.8,652.2 814.8,652.2 815.8,652.2 816.8,652.2 817.8,652.2 818.8,652.2 819.8,652.2 820.8,652.2 821.8,652.2 822.8,652.2 823.8,652.2 824.8,652.2 825.8,652.2 826.8,652.2 827.8,652.1 828.8,652.1 829.8,652.1 830.8,652.1 831.8,652.1 832.8,652.1 833.8,652.1 834.8,652.1 835.8,652.1 836.8,652.1 837.8,652.1 838.8,652.1 839.8,652.1 840.8,652.0 841.8,652.0 842.8,652.0 843.8,652.0 844.8,652.0 845.8,652.0 846.8,652.0 847.8,652.0 848.8,652.0 849.8,652.0 850.8,652.0 851.8,652.0 852.8,652.0 853.8,651.9 854.8,651.9 855.8,651.9 856.8,651.9 857.8,651.9 858.8,651.9 859.8,651.9 860.8,651.9 861.8,651.9 862.8,651.9 863.8,651.9 864.8,651.9 865.8,651.9 866.8,651.9 867.8,651.9 868.8,651.9 869.8,651.8 870.8,651.8 871.8,651.8 872.8,651.8 873.8,651.8 874.8,651.8 875.8,651.8 876.8,651.8 877.8,651.8 878.8,651.8 879.8,651.8 880.8,651.8 881.8,651.8 882.8,651.8 883.8,651.8 884.8,651.8 885.8,651.8 886.8,651.8 887.8,651.8 888.8,651.8 889.8,651.8 890.8,651.8 891.8,651.8 892.8,651.8 893.8,651.8 894.8,651.8 895.8,651.8 896.8,651.8 897.8,651.8 898.8,651.8 899.8,651.8 900.8,651.8 901.8,651.8 902.8,651.8 903.8,651.8 904.8,651.8 905.8,651.8 906.8,651.8 907.8,651.8 908.8,651.8 909.8,651.8 910.8,651.8 911.8,651.8 912.8,651.8 913.8,651.8 914.8,651.8 915.8,651.8 916.8,651.8 917.8,651.8 918.8,651.8 919.8,651.8 920.8,651.8 921.8,651.8 922.8,651.8 923.8,651.8 924.8,651.8 925.8,651.8 926.8,651.8 927.8,651.8 928.8,651.8 929.8,651.8 930.8,651.8 931.8,651.8 932.8,651.8 933.8,651.8 934.8,651.8 935.8,651.8 936.8,651.8 937.8,651.8 938.8,651.8 939.8,651.8 940.8,651.8 941.8,651.9 942.8,651.9 943.8,651.9 944.8,651.9 945.8,651.9 946.8,651.9 947.8,651.9 948.8,651.9 949.8,651.9 950.8,651.9 951.8,651.9 952.8,651.9 953.8,651.9 954.8,651.9 955.8,651.9 956.8,651.9 957.8,651.9 958.8,651.9 959.8,652.0 960.8,652.0 961.8,652.0 962.8,652.0 963.8,652.0 964.8,652.0 965.8,652.0 966.8,652.0 967.8,652.0 968.8,652.0 969.8,652.0 970.8,652.0 971.8,652.0 972.8,652.0 973.8,652.0 974.8,652.1 975.8,652.1 976.8,652.1 977.8,652.1 978.8,652.1 979.8,652.1 980.8,652.1 981.8,652.1 982.8,652.1 983.8,652.1 984.8,652.1 985.8,652.1 986.8,652.1 987.8,652.1 988.8,652.1 989.8,652.1 990.8,652.2 991.8,652.2 992.8,652.2 993.8,652.2 994.8,652.2 995.8,652.2 996.8,652.2 997.8,652.2 998.8,652.2 999.8,652.2 1000.8,652.2 1001.8,652.2 1002.8,652.2 1003.8,652.2 1004.8,652.2 1005.8,652.2 1006.8,652.2 1007.8,652.2 1008.8,652.2 1009.8,652.2 1010.8,652.3 1011.8,652.3 1012.8,652.3 1013.8,652.3 1014.8,652.3 1015.8,652.3 1016.8,652.3 1017.8,652.3 1018.8,652.3 1019.8,652.3 1020.8,652.3 1021.8,652.3 1022.8,652.3 1023.8,652.3 1024.8,652.3 1025.8,652.3 1026.8,652.3 1027.8,652.3 1028.8,652.3 1029.8,652.3 1030.8,652.4 1031.8,652.4 1032.8,652.4 1033.8,652.4 1034.8,652.4 1035.8,652.4 1036.8,652.4 1037.8,652.4 1038.8,652.4 1039.8,652.4 1040.8,652.4 1041.8,652.4 1042.8,652.4 1043.8,652.4 1044.8,652.4 1045.8,652.4 1046.8,652.4 1047.8,652.4 1048.8,652.4 1049.8,652.4 1050.8,652.4 1051.8,652.4 1052.8,652.5 1053.8,652.5 1054.8,652.5 1055.8,652.5 1056.8,652.5 1057.8,652.5 1058.8,652.5 1059.8,652.5 1060.8,652.5 1061.8,652.5 1062.8,652.5 1063.8,652.5 1064.8,652.5 1065.8,652.5 1066.8,652.5 1067.8,652.5 1068.8,652.5 1069.8,652.5 1070.8,652.5 1071.8,652.5 1072.8,652.5 1073.8,652.5 1074.8,652.5 1075.8,652.5 1076.8,652.5 1077.8,652.5 1078.8,652.5 1079.8,652.5 1080.8,652.5 1081.8,652.6 1082.8,652.6 1083.8,652.6 1084.8,652.6 1085.8,652.6 1086.8,652.6 1087.8,652.6 1088.8,652.6 1089.8,652.6 1090.8,652.6 1091.8,652.6 1092.8,652.6 1093.8,652.6 1094.8,652.6 1095.8,652.6 1096.8,652.6 1097.8,652.6 1098.8,652.6 1099.8,652.6 1100.8,652.6 1101.8,652.6 1102.8,652.6 1103.8,652.6 1104.8,652.6 1105.8,652.6 1106.8,652.6 1107.8,652.6 1108.8,652.6 1109.8,652.6 1110.8,652.6 1111.8,652.6 1112.8,652.6 1113.8,652.6 1114.8,652.6 1115.8,652.6 1116.8,652.6 1117.8,652.6 1118.8,652.6 1119.8,652.6 1120.8,652.6 1121.8,652.6 1122.8,652.6 1123.8,652.6 1124.8,652.6 1125.8,652.6 1126.8,652.6 1127.8,652.7 1128.8,652.7 1129.8,652.7 1130.8,652.7 1131.8,652.7 1132.8,652.7 1133.8,652.7 1134.8,652.7 1135.8,652.7 1136.8,652.7 1137.8,652.7 1138.8,652.7 1139.8,652.7 1140.8,652.7 1141.8,652.7 1142.8,652.7 1143.8,652.7 1144.8,652.7 1145.8,652.7 1146.8,652.7 1147.8,652.7 1148.8,652.7 1149.8,652.7 1150.8,652.7 1151.8,652.7 1152.8,652.7 1153.8,652.7 1154.8,652.7 1155.8,652.7 1156.8,652.7 1157.8,652.7 1158.8,652.7 1159.8,652.7 1160.8,652.7 1161.8,652.7 1162.8,652.7 1163.8,652.7 1164.8,652.7 1165.8,652.7 1166.8,652.7 1167.8,652.7 1168.8,652.7 1169.8,652.7 1170.8,652.7 1171.8,652.7 1172.8,652.7 1173.8,652.7 1174.8,652.7 1175.8,652.7 1176.8,652.7 1177.8,652.7 1178.8,652.7 1179.8,652.7 1180.8,652.7 1181.8,652.7 1182.8,652.7 1183.8,652.7 1184.8,652.7 1185.8,652.7 1186.8,652.7 1187.8,652.7 1188.8,652.7 1189.8,652.7 1190.8,652.7 1191.8,652.7 1192.8,652.7 1193.8,652.7 1194.8,652.7 1195.8,652.7 1196.8,652.7 1197.8,652.7 1198.8,652.7 1199.8,652.7 1200.8,652.7 1201.8,652.7 1202.8,652.7 1203.8,652.7 1204.8,652.7 1205.8,652.7 1206.8,652.7 1207.8,652.7 1208.8,652.7 1209.8,652.7 1210.8,652.7 1211.8,652.7 1212.8,652.7 1213.8,652.7 1214.8,652.7 1215.8,652.7 1216.8,652.7 1217.8,652.7 1218.8,652.7 1219.8,652.7 1220.8,652.7 1221.8,652.7 1222.8,652.7 1223.8,652.7 1224.8,652.7 1225.8,652.7 1226.8,652.7 1227.8,652.7 1228.8,652.7 1229.8,652.7 1230.8,652.7 1231.8,652.7 1232.8,652.7 1233.8,652.7 1234.8,652.7 1235.8,652.7 1236.8,652.7 1237.8,652.7 1238.8,652.7 1239.8,652.7 1240.8,652.7 1241.8,652.7 1242.8,652.7 1243.8,652.7 1244.8,652.7 1245.8,652.7 1246.8,652.7 1247.8,652.7 1248.8,652.7 1249.8,652.7 1250.8,652.7 1251.8,652.7 1252.8,652.7 1253.8,652.7 1254.8,652.7 1255.8,652.7 1256.8,652.7 1257.8,652.7 1258.8,652.7 1259.8,652.7 1260.8,652.7 1261.8,652.7 1262.8,652.7 1263.8,652.7 1264.8,652.7 1265.8,652.7 1266.8,652.7 1267.8,652.7 1268.8,652.7 1269.8,652.7 1270.8,652.7 1271.8,652.7 1272.8,652.7 1273.8,652.7 1274.8,652.7 1275.8,652.7 1276.8,652.7 1277.8,652.7 1278.8,652.7 1279.8,652.7 1280.8,652.7 1281.8,652.7 1282.8,652.7 1283.8,652.8 1284.8,652.8 1285.8,652.8 1286.8,652.8 1287.8,652.8 1288.8,652.8 1289.8,652.8 1290.8,652.8 1291.8,652.8 1292.8,652.8 1293.8,652.8 1294.8,652.8 1295.8,652.8 1296.8,652.8 1297.8,652.8 1298.8,652.8 1299.8,652.8 1300.8,652.8 1301.8,652.8 1302.8,652.8 1303.8,652.8 1304.8,652.8 1305.8,652.8 1306.8,652.8 1307.8,652.8 1308.8,652.8 1309.8,652.8 1310.8,652.8 1311.8,652.8 1312.8,652.8 1313.8,652.8 1314.8,652.8 1315.8,652.8 1316.8,652.8 1317.8,652.8 1318.8,652.8 1319.8,652.8 1320.8,652.8 1321.8,652.8 1322.8,652.8 1323.8,652.8 1324.8,652.8 1325.8,652.8 1326.8,652.8 1327.8,652.8 1328.8,652.8 1329.8,652.8 1330.8,652.8 1331.8,652.8 1332.8,652.8 1333.8,652.8 1334.8,652.8 1335.8,652.8 1336.8,652.8 1337.8,652.8 1338.8,652.8 1339.8,652.8 1340.8,652.8 1341.8,652.8 1342.8,652.8 1343.8,652.8 1344.8,652.8 1345.8,652.8 1346.8,652.8 1347.8,652.8 1348.8,652.8 1349.8,652.8 1350.8,652.8 1351.8,652.8 1352.8,652.8 1353.8,652.8 1354.8,652.8 1355.8,652.8 1356.8,652.8 1357.8,652.8 1358.8,652.8 1359.8,652.8 1360.8,652.8 1361.8,652.8 1362.8,652.8 1363.8,652.8 1364.8,652.8 1365.8,652.8 1366.8,652.8 1367.8,652.8 1368.8,652.8 1369.8,652.8 1370.8,652.8 1371.8,652.8 1372.8,652.8 1373.8,652.8 1374.8,652.8 1375.8,652.8 1376.8,652.8 1377.8,652.8 1378.8,652.8 1379.8,652.8 1380.8,652.8 1381.8,652.8 1382.8,652.8 1383.8,652.8 1384.8,652.8 1385.8,652.8 1386.8,652.8 1387.8,652.8 1388.8,652.8 1389.8,652.8 1390.8,652.8 1391.8,652.8 1392.8,652.8 1393.8,652.8 1394.8,652.8 1395.8,652.8 1396.8,652.8 1397.8,652.8 1398.8,652.8 1399.8,652.8 1400.8,652.8 1401.8,652.8 1402.8,652.8 1403.8,652.8 1404.8,652.8 1405.8,652.8 1406.8,652.8 1407.8,652.8 1408.8,652.8 1409.8,652.8 1410.8,652.8 1411.8,652.8 1412.8,652.8 1413.8,652.8 1414.8,652.8 1415.8,652.8 1416.8,652.8 1417.8,652.8 1418.8,652.8 1419.8,652.8 1420.8,652.8 1421.8,652.8 1422.8,652.8 1423.8,652.8 1424.8,652.8 1425.8,652.8 1426.8,652.8 1427.8,652.8 1428.8,652.8 1429.8,652.8 1430.8,652.8 1431.8,652.8 1432.8,652.8 1433.8,652.8 1434.8,652.8 1435.8,652.8 1436.8,652.8 1437.8,652.8 1438.8,652.8 1439.8,652.8 1440.8,652.8 1441.8,652.8 1442.8,652.8 1443.8,652.8 1444.8,652.8 1445.8,652.8 1446.8,652.8 1447.8,652.8 1448.8,652.8 1449.8,652.8 1450.8,652.8 1451.8,652.8 1452.8,652.8 1453.8,652.8 1454.8,652.8 1455.8,652.8" stroke="#0c7a12"/>
<path d="M199.3,225.0 199.4,226.0 199.5,227.0 199.5,228.0 199.6,229.0 199.7,230.0 199.8,231.0 199.8,232.0 199.9,233.0 200.0,234.0 200.1,235.0 200.1,236.0 200.2,237.0 200.3,238.0 200.4,239.0 200.4,240.0 200.5,241.0 200.6,242.0 200.7,242.9 200.7,243.9 200.8,244.9 200.9,245.9 201.0,246.9 201.0,247.9 201.1,248.9 201.2,249.9 201.3,250.9 201.3,251.9 201.4,252.9 201.5,253.9 201.6,254.9 201.6,255.9 201.7,256.9 201.8,257.9 201.9,258.9 202.0,259.9 202.0,260.9 202.1,261.9 202.2,262.9 202.3,263.9 202.3,264.9 202.4,265.9 202.5,266.9 202.6,267.9 202.6,268.9 202.7,269.9 202.8,270.9 202.9,271.9 203.0,272.9 203.0,273.9 203.1,274.9 203.2,275.9 203.3,276.8 203.3,277.8 203.4,278.8 203.5,279.8 203.5,280.8 203.6,281.8 203.7,282.8 203.8,283.8 203.8,284.8 203.9,285.8 204.0,286.8 204.0,287.8 204.1,288.8 204.2,289.8 204.2,290.8 204.3,291.8 204.4,292.8 204.4,293.8 204.5,294.8 204.6,295.8 204.6,296.8 204.7,297.8 204.7,298.8 204.8,299.8 204.8,300.8 204.9,301.8 204.9,302.8 205.0,303.8 205.1,304.8 205.1,305.8 205.1,306.8 205.2,307.8 205.2,308.8 205.3,309.8 205.3,310.8 205.4,311.8 205.4,312.8 205.5,313.8 205.5,314.8 205.5,315.8 205.6,316.8 205.6,317.8 205.7,318.8 205.7,319.8 205.7,320.8 205.8,321.8 205.8,322.8 205.8,323.8 205.9,324.8 205.9,325.8 205.9,326.8 206.0,327.8 206.0,328.8 206.1,329.8 206.1,330.8 206.1,331.8 206.2,332.8 206.2,333.8 206.2,334.8 206.3,335.8 206.3,336.8 206.3,337.8 206.4,338.8 206.4,339.8 206.4,340.8 206.5,341.8 206.5,342.8 206.6,343.8 206.6,344.8 206.6,345.8 206.7,346.8 206.7,347.8 206.8,348.8 206.8,349.8 206.8,350.8 206.9,351.8 206.9,352.8 206.9,353.8 207.0,354.8 207.0,355.8 207.1,356.8 207.1,357.8 207.1,358.8 207.2,359.7 207.2,360.7 207.2,361.7 207.3,362.7 207.3,363.7 207.3,364.7 207.4,365.7 207.4,366.7 207.5,367.7 207.5,368.7 207.5,369.7 207.6,370.7 207.6,371.7 207.6,372.7 207.7,373.7 207.7,374.7 207.7,375.7 207.8,376.7 207.8,377.7 207.9,378.7 207.9,379.7 207.9,380.7 208.0,381.7 208.0,382.7 208.1,383.7 208.1,384.7 208.2,385.7 208.2,386.7 208.3,387.7 208.3,388.7 208.4,389.7 208.4,390.7 208.5,391.7 208.5,392.7 208.6,393.7 208.6,394.7 208.7,395.7 208.8,396.7 208.8,397.7 208.9,398.7 209.0,399.7 209.1,400.7 209.1,401.7 209.2,402.7 209.3,403.7 209.4,404.7 209.4,405.7 209.5,406.7 209.6,407.7 209.7,408.7 209.8,409.7 209.9,410.7 210.0,411.7 210.1,412.7 210.2,413.7 210.3,414.6 210.4,415.6 210.5,416.6 210.6,417.6 210.7,418.6 210.8,419.6 210.9,420.6 211.0,421.6 211.1,422.6 211.2,423.6 211.3,424.6 211.4,425.6 211.5,426.6 211.6,427.6 211.7,428.6 211.9,429.6 212.0,430.6 212.1,431.6 212.2,432.5 212.3,433.5 212.4,434.5 212.5,435.5 212.6,436.5 212.7,437.5 212.8,438.5 212.9,439.5 213.0,440.5 213.1,441.5 213.2,442.5 213.4,443.5 213.5,444.5 213.6,445.5 213.7,446.5 213.8,447.5 213.8,448.5 213.9,449.5 214.0,450.5 214.1,451.4 214.2,452.4 214.3,453.4 214.4,454.4 214.5,455.4 214.6,456.4 214.7,457.4 214.8,458.4 214.9,459.4 215.0,460.4 215.1,461.4 215.2,462.4 215.3,463.4 215.3,464.4 215.4,465.4 215.5,466.4 215.6,467.4 215.7,468.4 215.8,469.4 215.9,470.4 216.0,471.4 216.1,472.4 216.2,473.4 216.2,474.4 216.3,475.3 216.4,476.3 216.5,477.3 216.6,478.3 216.7,479.3 216.8,480.3 216.9,481.3 217.0,482.3 217.0,483.3 217.1,484.3 217.2,485.3 217.3,486.3 217.4,487.3 217.5,488.3 217.6,489.3 217.7,490.3 217.7,491.3 217.8,492.3 217.9,493.3 218.0,494.3 218.1,495.3 218.2,496.3 218.3,497.3 218.3,498.3 218.4,499.3 218.5,500.3 218.6,501.2 218.7,502.2 218.8,503.2 218.9,504.2 218.9,505.2 219.0,506.2 219.1,507.2 219.2,508.2 219.3,509.2 219.3,510.2 219.4,511.2 219.5,512.2 219.6,513.2 219.7,514.2 219.7,515.2 219.8,516.2 219.9,517.2 220.0,518.2 220.0,519.2 220.1,520.2 220.2,521.2 220.3,522.2 220.4,523.2 220.4,524.2 220.5,525.2 220.6,526.2 220.7,527.2 220.7,528.2 220.8,529.2 220.9,530.2 221.0,531.2 221.1,532.2 221.1,533.1 221.2,534.1 221.3,535.1 221.4,536.1 221.5,537.1 221.5,538.1 221.6,539.1 221.7,540.1 221.8,541.1 221.9,542.1 221.9,543.1 222.0,544.1 222.1,545.1 222.2,546.1 222.3,547.1 222.4,548.1 222.5,549.1 222.5,550.1 222.6,551.1 222.7,552.1 222.8,553.1 222.9,554.1 223.0,555.1 223.1,556.1 223.2,557.1 223.3,558.1 223.4,559.0 223.5,560.0 223.6,561.0 223.7,562.0 223.8,563.0 223.9,564.0 224.0,565.0 224.2,566.0 224.3,567.0 224.4,568.0 224.5,569.0 224.6,570.0 224.7,571.0 224.8,572.0 225.0,573.0 225.1,574.0 225.2,574.9 225.3,575.9 225.4,576.9 225.6,577.9 225.7,578.9 225.8,579.9 225.9,580.9 226.1,581.9 226.2,582.9 226.3,583.9 226.5,584.9 226.6,585.9 226.7,586.8 226.9,587.8 227.0,588.8 227.1,589.8 227.3,590.8 227.4,591.8 227.5,592.8 227.7,593.8 227.8,594.8 227.9,595.8 228.1,596.8 228.2,597.7 228.3,598.7 228.5,599.7 228.6,600.7 228.7,601.7 228.9,602.7 229.0,603.7 229.1,604.7 229.3,605.7 229.4,606.7 229.5,607.7 229.7,608.6 229.8,609.6 229.9,610.6 230.1,611.6 230.2,612.6 230.4,613.6 230.5,614.6 230.6,615.6 230.8,616.6 230.9,617.6 231.0,618.6 231.2,619.5 231.3,620.5 231.5,621.5 231.6,622.5 231.7,623.5 231.9,624.5 232.0,625.5 232.2,626.5 232.3,627.5 232.4,628.5 232.6,629.4 232.7,630.4 232.9,631.4 233.0,632.4 233.2,633.4 233.3,634.4 233.5,635.4 233.6,636.4 233.8,637.4 233.9,638.4 234.1,639.3 234.2,640.3 234.4,641.3 234.5,642.3 234.7,643.3 234.8,644.3 235.0,645.3 235.1,646.3 235.3,647.2 235.4,648.2 235.6,649.2 235.7,650.2 235.9,651.2 236.1,652.2 236.2,653.2 236.4,654.2 236.6,655.1 236.7,656.1 236.9,657.1 237.1,658.1 237.2,659.1 237.4,660.1 237.6,661.1 237.8,662.0 237.9,663.0 238.1,664.0 238.3,665.0 238.5,666.0 238.7,667.0 238.8,667.9 239.0,668.9 239.2,669.9 239.4,670.9 239.6,671.9 239.8,672.9 240.0,673.8 240.2,674.8 240.3,675.8 240.5,676.8 240.7,677.8 240.9,678.7 241.1,679.7 241.3,680.7 241.5,681.7 241.7,682.7 241.9,683.7 242.0,684.6 242.2,685.6 242.4,686.6 242.6,687.6 242.8,688.6 243.0,689.5 243.2,690.5 243.4,691.5 243.5,692.5 243.7,693.5 243.9,694.5 244.1,695.4 244.3,696.4 244.4,697.4 244.6,698.4 244.8,699.4 245.0,700.4 245.1,701.4 245.3,702.3 245.5,703.3 245.6,704.3 245.8,705.3 246.0,706.3 246.1,707.3 246.3,708.3 246.5,709.2 246.6,710.2 246.8,711.2 247.0,712.2 247.1,713.2 247.3,714.2 247.4,715.2 247.6,716.1 247.8,717.1 247.9,718.1 248.1,719.1 248.2,720.1 248.4,721.1 248.6,722.1 248.7,723.1 248.9,724.0 249.0,725.0 249.2,726.0 249.4,727.0 249.5,728.0 249.7,729.0 249.8,730.0 250.0,731.0 250.2,731.9 250.3,732.9 250.5,733.9 250.6,734.9 250.8,735.9 251.0,736.9 251.1,737.9 251.3,738.9 251.4,739.8 251.6,740.8 251.8,741.8 251.9,742.8 252.1,743.8 252.2,744.8 252.4,745.8 252.5,746.8 252.7,747.7 252.8,748.7 253.0,749.7 253.2,750.7 253.3,751.7 253.5,752.7 253.6,753.7 253.8,754.7 254.0,755.6 254.1,756.6 254.3,757.6 254.5,758.6 254.7,759.6 254.9,760.5 255.1,761.5 255.3,762.5 255.6,763.5 255.8,764.5 256.0,765.4 256.3,766.4 256.5,767.4 256.7,768.3 257.0,769.3 257.3,770.3 257.5,771.2 257.8,772.2 258.0,773.2 258.3,774.1 258.5,775.1 258.8,776.1 259.0,777.0 259.3,778.0 259.5,779.0 259.8,779.9 260.1,780.9 260.3,781.9 260.6,782.8 260.8,783.8 261.1,784.8 261.4,785.7 261.6,786.7 261.9,787.7 262.2,788.6 262.4,789.6 262.7,790.6 263.0,791.5 263.2,792.5 263.5,793.4 263.8,794.4 264.1,795.4 264.4,796.3 264.6,797.3 264.9,798.2 265.2,799.2 265.5,800.1 265.9,801.1 266.2,802.0 266.5,803.0 266.8,803.9 267.1,804.9 267.5,805.8 267.8,806.8 268.2,807.7 268.5,808.6 268.9,809.6 269.2,810.5 269.6,811.4 270.0,812.4 270.3,813.3 270.7,814.2 271.1,815.1 271.4,816.1 271.8,817.0 272.2,817.9 272.6,818.9 273.0,819.8 273.4,820.7 273.7,821.6 274.1,822.5 274.6,823.4 275.0,824.4 275.4,825.3 275.8,826.2 276.2,827.1 276.7,828.0 277.1,828.9 277.5,829.8 278.0,830.7 278.4,831.6 278.8,832.5 279.3,833.4 279.7,834.3 280.2,835.2 280.7,836.0 281.2,836.9 281.8,837.7 282.4,838.5 283.0,839.3 283.7,840.0 284.4,840.7 285.2,841.3 285.9,842.0 286.7,842.6 287.5,843.2 288.3,843.8 289.1,844.5 289.8,845.1 290.5,845.8 291.2,846.6 291.9,847.3 292.7,847.9 293.5,848.5 294.4,848.9 295.4,849.2 296.3,849.5 297.3,849.8 298.3,850.0 299.2,850.2 300.2,850.4 301.2,850.5 302.2,850.6 303.2,850.6 304.2,850.6 305.2,850.5 306.2,850.4 307.2,850.2 308.1,850.0 309.1,849.7 310.1,849.4 311.0,849.1 311.9,848.7 312.9,848.4 313.8,848.0 314.7,847.6 315.6,847.2 316.5,846.7 317.4,846.2 318.3,845.8 319.1,845.2 320.0,844.7 320.8,844.2 321.7,843.6 322.5,843.1 323.3,842.5 324.2,842.0 325.0,841.4 325.8,840.9 326.7,840.3 327.5,839.7 328.3,839.2 329.1,838.6 330.0,838.0 330.8,837.5 331.6,836.9 332.4,836.3 333.2,835.7 334.0,835.2 334.9,834.6 335.7,834.0 336.5,833.5 337.4,832.9 338.3,832.5 339.1,832.0 340.0,831.5 340.8,830.9 341.6,830.4 342.5,829.8 343.2,829.2 344.0,828.5 344.8,827.9 345.6,827.3 346.4,826.7 347.2,826.0 347.9,825.4 348.7,824.8 349.5,824.1 350.2,823.5 351.0,822.8 351.8,822.2 352.5,821.5 353.3,820.9 354.0,820.2 354.8,819.6 355.5,818.9 356.3,818.2 357.0,817.5 357.7,816.9 358.5,816.2 359.2,815.5 359.9,814.8 360.6,814.1 361.4,813.4 362.1,812.7 362.8,812.0 363.5,811.3 364.2,810.6 364.9,809.9 365.7,809.2 366.4,808.5 367.1,807.8 367.8,807.1 368.5,806.4 369.2,805.7 369.9,805.0 370.6,804.2 371.2,803.5 371.9,802.8 372.6,802.1 373.3,801.3 374.0,800.6 374.6,799.9 375.3,799.1 376.0,798.4 376.6,797.6 377.3,796.8 377.9,796.1 378.5,795.3 379.2,794.5 379.8,793.7 380.4,792.9 381.0,792.2 381.6,791.4 382.2,790.6 382.8,789.8 383.4,789.0 384.0,788.2 384.6,787.4 385.2,786.6 385.8,785.7 386.4,784.9 387.0,784.1 387.5,783.3 388.1,782.5 388.7,781.6 389.2,780.8 389.8,780.0 390.4,779.2 391.0,778.4 391.6,777.6 392.2,776.8 392.8,776.0 393.4,775.2 394.0,774.4 394.6,773.6 395.3,772.9 395.9,772.1 396.6,771.3 397.2,770.6 397.9,769.8 398.5,769.1 399.2,768.3 399.9,767.6 400.5,766.8 401.2,766.1 401.9,765.3 402.6,764.6 403.2,763.9 403.9,763.2 404.6,762.4 405.3,761.7 406.0,761.0 406.7,760.2 407.4,759.5 408.1,758.8 408.7,758.1 409.4,757.3 410.1,756.6 410.8,755.9 411.5,755.2 412.2,754.5 412.9,753.7 413.6,753.0 414.3,752.3 415.0,751.6 415.7,750.9 416.4,750.2 417.1,749.5 417.8,748.8 418.6,748.1 419.3,747.4 420.0,746.7 420.7,746.0 421.4,745.3 422.1,744.6 422.9,743.9 423.6,743.2 424.3,742.5 425.0,741.9 425.8,741.2 426.5,740.5 427.2,739.8 428.0,739.1 428.7,738.5 429.5,737.8 430.2,737.1 430.9,736.5 431.7,735.8 432.4,735.1 433.2,734.5 433.9,733.8 434.7,733.1 435.5,732.5 436.2,731.8 437.0,731.2 437.7,730.5 438.5,729.9 439.3,729.3 440.0,728.6 440.8,728.0 441.6,727.4 442.4,726.7 443.2,726.1 444.0,725.5 444.7,724.9 445.5,724.3 446.3,723.7 447.1,723.1 447.9,722.4 448.7,721.8 449.5,721.2 450.2,720.6 451.0,719.9 451.8,719.3 452.6,718.7 453.3,718.0 454.1,717.4 454.8,716.7 455.6,716.1 456.4,715.4 457.1,714.7 457.9,714.1 458.6,713.4 459.3,712.8 460.1,712.1 460.8,711.4 461.6,710.8 462.3,710.1 463.1,709.4 463.8,708.8 464.6,708.1 465.3,707.4 466.1,706.8 466.8,706.1 467.6,705.5 468.4,704.8 469.1,704.2 469.9,703.6 470.7,702.9 471.5,702.3 472.3,701.7 473.1,701.1 473.9,700.5 474.7,699.9 475.5,699.3 476.3,698.7 477.1,698.1 477.9,697.5 478.7,697.0 479.5,696.4 480.3,695.8 481.2,695.2 482.0,694.7 482.8,694.1 483.6,693.5 484.5,693.0 485.3,692.4 486.1,691.9 487.0,691.3 487.8,690.8 488.6,690.2 489.5,689.7 490.3,689.2 491.2,688.6 492.0,688.1 492.9,687.6 493.7,687.0 494.6,686.5 495.4,686.0 496.3,685.4 497.1,684.9 498.0,684.4 498.8,683.9 499.7,683.4 500.6,682.9 501.4,682.4 502.3,681.9 503.2,681.4 504.1,681.0 505.0,680.5 505.8,680.0 506.7,679.6 507.6,679.2 508.5,678.7 509.4,678.3 510.3,677.9 511.2,677.4 512.1,677.0 513.0,676.6 514.0,676.1 514.9,675.7 515.8,675.3 516.7,674.9 517.6,674.4 518.5,674.0 519.4,673.6 520.3,673.2 521.2,672.8 522.1,672.4 523.0,672.0 524.0,671.6 524.9,671.2 525.8,670.8 526.7,670.4 527.7,670.1 528.6,669.7 529.5,669.3 530.5,669.0 531.4,668.6 532.3,668.2 533.3,667.9 534.2,667.5 535.1,667.2 536.1,666.8 537.0,666.5 537.9,666.1 538.9,665.8 539.8,665.5 540.8,665.1 541.7,664.8 542.7,664.5 543.6,664.1 544.5,663.8 545.5,663.5 546.5,663.2 547.4,662.9 548.4,662.6 549.3,662.4 550.3,662.1 551.2,661.8 552.2,661.5 553.2,661.3 554.1,661.0 555.1,660.8 556.1,660.5 557.0,660.3 558.0,660.0 559.0,659.8 559.9,659.5 560.9,659.3 561.9,659.0 562.9,658.8 563.8,658.6 564.8,658.4 565.8,658.2 566.8,658.0 567.7,657.7 568.7,657.5 569.7,657.3 570.7,657.0 571.6,656.8 572.6,656.5 573.6,656.2 574.5,656.0 575.5,655.7 576.4,655.4 577.4,655.1 578.4,654.9 579.3,654.6 580.3,654.3 581.3,654.1 582.2,653.8 583.2,653.6 584.2,653.3 585.1,653.1 586.1,652.9 587.1,652.7 588.1,652.5 589.1,652.4 590.1,652.2 591.1,652.1 592.1,652.0 593.0,652.0 594.0,651.9 595.0,651.8 596.0,651.7 597.0,651.6 598.0,651.5 599.0,651.3 600.0,651.2 601.0,651.1 602.0,650.9 603.0,650.8 604.0,650.7 605.0,650.5 605.9,650.4 606.9,650.2 607.9,650.1 608.9,650.0 609.9,649.8 610.9,649.7 611.9,649.6 612.9,649.4 613.9,649.3 614.9,649.2 615.9,649.1 616.9,649.0 617.8,648.8 618.8,648.7 619.8,648.6 620.8,648.5 621.8,648.4 622.8,648.3 623.8,648.2 624.8,648.1 625.8,648.0 626.8,647.9 627.8,647.8 628.8,647.7 629.8,647.6 630.8,647.5 631.8,647.4 632.8,647.3 633.8,647.2 634.8,647.2 635.8,647.1 636.8,647.0 637.8,647.0 638.8,646.9 639.8,646.9 640.8,646.9 641.8,646.8 642.8,646.8 643.8,646.8 644.8,646.8 645.8,646.7 646.8,646.7 647.8,646.7 648.8,646.7 649.8,646.7 650.8,646.6 651.8,646.6 652.8,646.6 653.8,646.5 654.8,646.5 655.7,646.4 656.7,646.4 657.7,646.3 658.7,646.3 659.7,646.2 660.7,646.2 661.7,646.1 662.7,646.0 663.7,646.0 664.7,645.9 665.7,645.8 666.7,645.8 667.7,645.7 668.7,645.6 669.7,645.6 670.7,645.5 671.7,645.5 672.7,645.4 673.7,645.4 674.7,645.3 675.7,645.3 676.7,645.3 677.7,645.2 678.7,645.2 679.7,645.2 680.7,645.1 681.7,645.1 682.7,645.1 683.7,645.1 684.7,645.0 685.7,645.0 686.7,645.0 687.7,645.0 688.7,645.0 689.7,644.9 690.7,644.9 691.7,644.9 692.7,644.9 693.7,644.9 694.7,644.9 695.7,644.8 696.7,644.8 697.7,644.8 698.7,644.8 699.7,644.8 700.7,644.8 701.7,644.8 702.7,644.8 703.7,644.8 704.7,644.7 705.7,644.7 706.7,644.7 707.7,644.7 708.7,644.7 709.7,644.7 710.7,644.7 711.7,644.7 712.7,644.7 713.7,644.7 714.7,644.7 715.7,644.7 716.7,644.7 717.7,644.7 718.7,644.6 719.7,644.6 720.7,644.6 721.7,644.6 722.7,644.6 723.7,644.6 724.7,644.6 725.7,644.6 726.7,644.6 727.7,644.6 728.7,644.6 729.7,644.6 730.7,644.6 731.7,644.6 732.7,644.6 733.7,644.6 734.7,644.6 735.7,644.6 736.7,644.6 737.7,644.6 738.7,644.6 739.7,644.6 740.7,644.6 741.7,644.6 742.7,644.6 743.7,644.6 744.7,644.6 745.7,644.6 746.7,644.6 747.7,644.7 748.7,644.7 749.7,644.7 750.7,644.7 751.7,644.7 752.7,644.7 753.7,644.7 754.7,644.7 755.7,644.7 756.7,644.8 757.7,644.8 758.7,644.8 759.7,644.8 760.7,644.8 761.7,644.8 762.7,644.8 763.7,644.9 764.7,644.9 765.7,644.9 766.7,644.9 767.7,644.9 768.7,644.9 769.7,644.9 770.7,645.0 771.7,645.0 772.7,645.0 773.7,645.0 774.7,645.0 775.7,645.0 776.7,645.1 777.7,645.1 778.7,645.1 779.7,645.1 780.7,645.1 781.7,645.1 782.7,645.2 783.7,645.2 784.7,645.2 785.7,645.2 786.7,645.2 787.7,645.2 788.7,645.3 789.7,645.3 790.7,645.3 791.7,645.3 792.7,645.3 793.7,645.4 794.7,645.4 795.7,645.4 796.7,645.4 797.7,645.4 798.7,645.5 799.7,645.5 800.7,645.5 801.7,645.5 802.7,645.5 803.7,645.6 804.7,645.6 805.7,645.6 806.7,645.6 807.7,645.7 808.7,645.7 809.7,645.7 810.7,645.7 811.7,645.8 812.7,645.8 813.7,645.8 814.7,645.8 815.7,645.9 816.7,645.9 817.7,645.9 818.7,645.9 819.7,646.0 820.7,646.0 821.7,646.0 822.7,646.1 823.7,646.1 824.7,646.1 825.7,646.1 826.7,646.2 827.7,646.2 828.7,646.3 829.7,646.3 830.7,646.3 831.7,646.4 832.7,646.4 833.7,646.4 834.7,646.5 835.7,646.5 836.7,646.5 837.7,646.6 838.7,646.6 839.7,646.7 840.7,646.7 841.7,646.7 842.7,646.8 843.7,646.8 844.7,646.9 845.7,646.9 846.7,647.0 847.7,647.0 848.7,647.0 849.7,647.1 850.7,647.1 851.7,647.2 852.7,647.2 853.7,647.3 854.7,647.3 855.7,647.3 856.7,647.4 857.7,647.4 858.7,647.5 859.7,647.5 860.7,647.6 861.7,647.6 862.7,647.6 863.7,647.7 864.7,647.7 865.7,647.8 866.7,647.8 867.7,647.8 868.7,647.9 869.7,647.9 870.7,648.0 871.7,648.0 872.7,648.0 873.7,648.1 874.7,648.1 875.7,648.1 876.7,648.2 877.7,648.2 878.7,648.3 879.7,648.3 880.7,648.3 881.7,648.4 882.7,648.4 883.6,648.4 884.6,648.5 885.6,648.5 886.6,648.5 887.6,648.6 888.6,648.6 889.6,648.6 890.6,648.6 891.6,648.7 892.6,648.7 893.6,648.7 894.6,648.8 895.6,648.8 896.6,648.8 897.6,648.9 898.6,648.9 899.6,648.9 900.6,649.0 901.6,649.0 902.6,649.0 903.6,649.0 904.6,649.1 905.6,649.1 906.6,649.1 907.6,649.2 908.6,649.2 909.6,649.2 910.6,649.3 911.6,649.3 912.6,649.3 913.6,649.3 914.6,649.4 915.6,649.4 916.6,649.4 917.6,649.4 918.6,649.5 919.6,649.5 920.6,649.5 921.6,649.6 922.6,649.6 923.6,649.6 924.6,649.6 925.6,649.7 926.6,649.7 927.6,649.7 928.6,649.7 929.6,649.8 930.6,649.8 931.6,649.8 932.6,649.8 933.6,649.9 934.6,649.9 935.6,649.9 936.6,649.9 937.6,649.9 938.6,650.0 939.6,650.0 940.6,650.0 941.6,650.0 942.6,650.1 943.6,650.1 944.6,650.1 945.6,650.1 946.6,650.1 947.6,650.2 948.6,650.2 949.6,650.2 950.6,650.2 951.6,650.2 952.6,650.3 953.6,650.3 954.6,650.3 955.6,650.3 956.6,650.3 957.6,650.4 958.6,650.4 959.6,650.4 960.6,650.4 961.6,650.4 962.6,650.4 963.6,650.5 964.6,650.5 965.6,650.5 966.6,650.5 967.6,650.5 968.6,650.5 969.6,650.6 970.6,650.6 971.6,650.6 972.6,650.6 973.6,650.6 974.6,650.6 975.6,650.7 976.6,650.7 977.6,650.7 978.6,650.7 979.6,650.7 980.6,650.7 981.6,650.7 982.6,650.8 983.6,650.8 984.6,650.8 985.6,650.8 986.6,650.8 987.6,650.8 988.6,650.8 989.6,650.9 990.6,650.9 991.6,650.9 992.6,650.9 993.6,650.9 994.6,650.9 995.6,650.9 996.6,651.0 997.6,651.0 998.6,651.0 999.6,651.0 1000.6,651.0 1001.6,651.0 1002.6,651.0 1003.6,651.0 1004.6,651.1 1005.6,651.1 1006.6,651.1 1007.6,651.1 1008.6,651.1 1009.6,651.1 1010.6,651.1 1011.6,651.1 1012.6,651.2 1013.6,651.2 1014.6,651.2 1015.6,651.2 1016.6,651.2 1017.6,651.2 1018.6,651.2 1019.6,651.2 1020.6,651.3 1021.6,651.3 1022.6,651.3 1023.6,651.3 1024.6,651.3 1025.6,651.3 1026.6,651.3 1027.6,651.3 1028.6,651.3 1029.6,651.4 1030.6,651.4 1031.6,651.4 1032.6,651.4 1033.6,651.4 1034.6,651.4 1035.6,651.4 1036.6,651.4 1037.6,651.4 1038.6,651.5 1039.6,651.5 1040.6,651.5 1041.6,651.5 1042.6,651.5 1043.6,651.5 1044.6,651.5 1045.6,651.5 1046.6,651.5 1047.6,651.5 1048.6,651.6 1049.6,651.6 1050.6,651.6 1051.6,651.6 1052.6,651.6 1053.6,651.6 1054.6,651.6 1055.6,651.6 1056.6,651.6 1057.6,651.6 1058.6,651.7 1059.6,651.7 1060.6,651.7 1061.6,651.7 1062.6,651.7 1063.6,651.7 1064.6,651.7 1065.6,651.7 1066.6,651.7 1067.6,651.7 1068.6,651.7 1069.6,651.8 1070.6,651.8 1071.6,651.8 1072.6,651.8 1073.6,651.8 1074.6,651.8 1075.6,651.8 1076.6,651.8 1077.6,651.8 1078.6,651.8 1079.6,651.8 1080.6,651.9 1081.6,651.9 1082.6,651.9 1083.6,651.9 1084.6,651.9 1085.6,651.9 1086.6,651.9 1087.6,651.9 1088.6,651.9 1089.6,651.9 1090.6,651.9 1091.6,651.9 1092.6,651.9 1093.6,652.0 1094.6,652.0 1095.6,652.0 1096.6,652.0 1097.6,652.0 1098.6,652.0 1099.6,652.0 1100.6,652.0 1101.6,652.0 1102.6,652.0 1103.6,652.0 1104.6,652.0 1105.6,652.0 1106.6,652.0 1107.6,652.1 1108.6,652.1 1109.6,652.1 1110.6,652.1 1111.6,652.1 1112.6,652.1 1113.6,652.1 1114.6,652.1 1115.6,652.1 1116.6,652.1 1117.6,652.1 1118.6,652.1 1119.6,652.1 1120.6,652.1 1121.6,652.1 1122.6,652.1 1123.6,652.1 1124.6,652.2 1125.6,652.2 1126.6,652.2 1127.6,652.2 1128.6,652.2 1129.6,652.2 1130.6,652.2 1131.6,652.2 1132.6,652.2 1133.6,652.2 1134.6,652.2 1135.6,652.2 1136.6,652.2 1137.6,652.2 1138.6,652.2 1139.6,652.2 1140.6,652.2 1141.6,652.2 1142.6,652.2 1143.6,652.2 1144.6,652.2 1145.6,652.2 1146.6,652.3 1147.6,652.3 1148.6,652.3 1149.6,652.3 1150.6,652.3 1151.6,652.3 1152.6,652.3 1153.6,652.3 1154.6,652.3 1155.6,652.3 1156.6,652.3 1157.6,652.3 1158.6,652.3 1159.6,652.3 1160.6,652.3 1161.6,652.3 1162.6,652.3 1163.6,652.3 1164.6,652.3 1165.6,652.3 1166.6,652.3 1167.6,652.3 1168.6,652.3 1169.6,652.3 1170.6,652.3 1171.6,652.3 1172.6,652.3 1173.6,652.3 1174.6,652.3 1175.6,652.3 1176.6,652.3 1177.6,652.3 1178.6,652.4 1179.6,652.4 1180.6,652.4 1181.6,652.4 1182.6,652.4 1183.6,652.4 1184.6,652.4 1185.6,652.4 1186.6,652.4 1187.6,652.4 1188.6,652.4 1189.6,652.4 1190.6,652.4 1191.6,652.4 1192.6,652.4 1193.6,652.4 1194.6,652.4 1195.6,652.4 1196.6,652.4 1197.6,652.4 1198.6,652.4 1199.6,652.4 1200.6,652.4 1201.6,652.4 1202.6,652.4 1203.6,652.4 1204.6,652.4 1205.6,652.4 1206.6,652.4 1207.6,652.4 1208.6,652.4 1209.6,652.4 1210.6,652.4 1211.6,652.4 1212.6,652.4 1213.6,652.4 1214.6,652.4 1215.6,652.4 1216.6,652.4 1217.6,652.4 1218.6,652.4 1219.6,652.4 1220.6,652.4 1221.6,652.4 1222.6,652.4 1223.6,652.4 1224.6,652.4 1225.6,652.4 1226.6,652.4 1227.6,652.4 1228.6,652.4 1229.6,652.4 1230.6,652.4 1231.6,652.4 1232.6,652.5 1233.6,652.5 1234.6,652.5 1235.6,652.5 1236.6,652.5 1237.6,652.5 1238.6,652.5 1239.6,652.5 1240.6,652.5 1241.6,652.5 1242.6,652.5 1243.6,652.5 1244.6,652.5 1245.6,652.5 1246.6,652.5 1247.6,652.5 1248.6,652.5 1249.6,652.5 1250.6,652.5 1251.6,652.5 1252.6,652.5 1253.6,652.5 1254.6,652.5 1255.6,652.5 1256.6,652.5 1257.6,652.5 1258.6,652.5 1259.6,652.5 1260.6,652.5 1261.6,652.5 1262.6,652.5 1263.6,652.5 1264.6,652.5 1265.6,652.5 1266.6,652.5 1267.6,652.5 1268.6,652.5 1269.6,652.5 1270.6,652.5 1271.6,652.5 1272.6,652.5 1273.6,652.5 1274.6,652.5 1275.6,652.5 1276.6,652.5 1277.6,652.5 1278.6,652.5 1279.6,652.5 1280.6,652.5 1281.6,652.5 1282.6,652.5 1283.6,652.5 1284.6,652.5 1285.6,652.5 1286.6,652.5 1287.6,652.5 1288.6,652.5 1289.6,652.5 1290.6,652.5 1291.6,652.5 1292.6,652.5 1293.6,652.5 1294.6,652.5 1295.6,652.5 1296.6,652.5 1297.6,652.5 1298.6,652.5 1299.6,652.5 1300.6,652.5 1301.6,652.5 1302.6,652.5 1303.6,652.5 1304.6,652.5 1305.6,652.5 1306.6,652.5 1307.6,652.5 1308.6,652.5 1309.6,652.5 1310.6,652.5 1311.6,652.5 1312.6,652.5 1313.6,652.5 1314.6,652.5 1315.6,652.5 1316.6,652.5 1317.6,652.5 1318.6,652.5 1319.6,652.5 1320.6,652.5 1321.6,652.5 1322.6,652.5 1323.6,652.5 1324.6,652.5 1325.6,652.5 1326.6,652.5 1327.6,652.5 1328.6,652.5 1329.6,652.5 1330.6,652.5 1331.6,652.5 1332.6,652.5 1333.6,652.5 1334.6,652.5 1335.6,652.5 1336.6,652.5 1337.6,652.5 1338.6,652.5 1339.6,652.5 1340.6,652.5 1341.6,652.5 1342.6,652.5 1343.6,652.5 1344.6,652.5 1345.6,652.5 1346.6,652.5 1347.6,652.5 1348.6,652.5 1349.6,652.5 1350.6,652.5 1351.6,652.5 1352.6,652.5 1353.6,652.5 1354.6,652.5 1355.6,652.5 1356.6,652.5 1357.6,652.5 1358.6,652.5 1359.6,652.5 1360.6,652.5 1361.6,652.5 1362.6,652.5 1363.6,652.5 1364.6,652.5 1365.6,652.5 1366.6,652.5 1367.6,652.5 1368.6,652.5 1369.6,652.5 1370.6,652.5 1371.6,652.5 1372.6,652.5 1373.6,652.5 1374.6,652.5 1375.6,652.5 1376.6,652.5 1377.6,652.5 1378.6,652.5 1379.6,652.5 1380.6,652.5 1381.6,652.5 1382.6,652.5 1383.6,652.5 1384.6,652.5 1385.6,652.5 1386.6,652.5 1387.6,652.5 1388.6,652.5 1389.6,652.5 1390.6,652.5 1391.6,652.5 1392.6,652.5 1393.6,652.5 1394.6,652.5 1395.6,652.5 1396.6,652.5 1397.6,652.5 1398.6,652.5 1399.6,652.5 1400.6,652.5 1401.6,652.5 1402.6,652.5 1403.6,652.5 1404.6,652.5 1405.6,652.5 1406.6,652.5 1407.6,652.5 1408.6,652.5 1409.6,652.5 1410.6,652.5 1411.6,652.5 1412.6,652.5 1413.6,652.5 1414.6,652.5 1415.6,652.5 1416.6,652.5 1417.6,652.5 1418.6,652.5 1419.6,652.5 1420.6,652.5 1421.6,652.5 1422.6,652.5 1423.6,652.5 1424.6,652.5 1425.6,652.5 1426.6,652.5 1427.6,652.5 1428.6,652.5 1429.6,652.5 1430.6,652.5 1431.6,652.5 1432.6,652.5 1433.6,652.5 1434.6,652.5 1435.6,652.5 1436.6,652.5 1437.6,652.5 1438.6,652.5 1439.6,652.5 1440.6,652.5 1441.6,652.5 1442.6,652.5 1443.6,652.5 1444.6,652.5 1445.6,652.5 1446.6,652.5 1447.6,652.5 1448.6,652.5 1449.6,652.5 1450.6,652.5 1451.6,652.5 1452.6,652.5 1453.6,652.5 1454.6,652.5 1455.6,652.5" stroke="#e01018"/>
</g>
<rect x="199.0" y="18.0" width="1257.0" height="963.2" fill="none" stroke="#000" stroke-width="6.8" stroke-linejoin="miter"/>
<g font-family="'Liberation Sans', sans-serif" font-size="100" fill="#000">
<text transform="translate(112.93,59.66) scale(0.4176,0.4394)">0.6</text>
<text transform="translate(112.94,263.75) scale(0.4145,0.4451)">0.4</text>
<text transform="translate(112.95,465.16) scale(0.4137,0.4423)">0.2</text>
<text transform="translate(112.93,668.17) scale(0.4176,0.4338)">0.0</text>
<rect x="84.7" y="858.6" width="24.7" height="3.6" fill="#000"/>
<text transform="translate(113.08,872.36) scale(0.4305,0.4366)">0.2</text>
<text transform="translate(187.67,1034.27) scale(0.3833,0.4296)">0</text>
<text transform="translate(369.17,1034.70) scale(0.3791,0.4420)">1</text>
<text transform="translate(546.03,1034.70) scale(0.4348,0.4357)">2</text>
<text transform="translate(725.49,1034.27) scale(0.4277,0.4296)">3</text>
<text transform="translate(907.35,1035.15) scale(0.4255,0.4485)">4</text>
<text transform="translate(1083.15,1034.26) scale(0.4128,0.4357)">5</text>
<text transform="translate(1261.74,1034.27) scale(0.4717,0.4296)">6</text>
<text transform="translate(1443.36,1035.15) scale(0.4087,0.4485)">7</text>
</g>
<text font-family="'Liberation Sans', sans-serif" font-weight="bold" font-size="100" stroke="#000" stroke-width="2.2" stroke-linejoin="round" transform="translate(812.44,1098.20) scale(0.5574,0.5358)">x</text>
<g font-family="'Liberation Sans', sans-serif" font-style="italic" font-size="100">
<text transform="translate(41.78,539.33) rotate(-90) scale(0.5433,0.5222)">σ</text>
<text transform="translate(48.64,504.63) rotate(-90) scale(0.3936,0.3743)">xy</text>
</g>
<rect x="590.6" y="37.7" width="844.3" height="327" rx="5" ry="5" fill="#ffffff" fill-opacity="0.8" stroke="#cccccc" stroke-opacity="0.8" stroke-width="2.2"/>
<path d="M603.5,78.70H689" stroke="#0808d8" stroke-width="7.3"/>
<g font-family="'Liberation Sans', sans-serif" font-size="100" fill="#000">
<text font-style="italic" transform="translate(717.93,89.15) scale(0.4233,0.4500)">σ</text>
<text font-style="italic" transform="translate(742.73,95.90) scale(0.3073,0.3284)">xy</text>
<text font-weight="bold" transform="translate(807.99,90.10) scale(0.4691,0.4588)">Approximated</text>
<text font-weight="bold" transform="translate(1137.34,90.10) scale(0.4798,0.4588)">Mean</text>
<text font-weight="bold" transform="translate(791.40,85.89) scale(0.3607,0.4053)">(</text>
<text font-weight="bold" transform="translate(1261.70,85.89) scale(0.4107,0.4053)">)</text>
</g>
<path d="M603.5,157.92H689" stroke="#000000" stroke-width="7.3"/>
<g font-family="'Liberation Sans', sans-serif" font-size="100" fill="#000">
<text font-style="italic" transform="translate(717.93,168.37) scale(0.4233,0.4500)">σ</text>
<text font-style="italic" transform="translate(742.73,175.12) scale(0.3073,0.3284)">xy</text>
<text font-weight="bold" transform="translate(809.74,169.32) scale(0.4598,0.4588)">Upper</text>
<text font-weight="bold" transform="translate(955.65,169.32) scale(0.4505,0.4588)">Bound</text>
<text font-weight="bold" transform="translate(791.50,165.11) scale(0.3607,0.4053)">(</text>
<text font-weight="bold" transform="translate(1102.40,165.11) scale(0.4214,0.4053)">)</text>
</g>
<path d="M603.5,237.14H689" stroke="#0c7a12" stroke-width="7.3"/>
<g font-family="'Liberation Sans', sans-serif" font-size="100" fill="#000">
<text font-style="italic" transform="translate(717.93,247.59) scale(0.4233,0.4500)">σ</text>
<text font-style="italic" transform="translate(742.73,254.34) scale(0.3073,0.3284)">xy</text>
<text font-weight="bold" transform="translate(809.34,248.54) scale(0.4517,0.4588)">Lower</text>
<text font-weight="bold" transform="translate(955.65,248.54) scale(0.4505,0.4588)">Bound</text>
<text font-weight="bold" transform="translate(791.50,244.33) scale(0.3607,0.4053)">(</text>
<text font-weight="bold" transform="translate(1102.40,244.33) scale(0.4214,0.4053)">)</text>
</g>
<path d="M603.5,316.36H689" stroke="#e01018" stroke-width="7.3"/>
<g font-family="'Liberation Sans', sans-serif" font-size="100" fill="#000">
<text font-style="italic" transform="translate(717.93,326.81) scale(0.4233,0.4500)">σ</text>
<text font-style="italic" transform="translate(742.73,333.56) scale(0.3073,0.3284)">xy</text>
<text font-weight="bold" transform="translate(793.76,327.76) scale(0.4764,0.4588)">Deterministic</text>
<text font-weight="bold" transform="translate(1108.51,327.76) scale(0.4889,0.4588)">Temperature</text>
<text font-weight="bold" transform="translate(777.10,323.55) scale(0.3607,0.4053)">(</text>
<text font-weight="bold" transform="translate(1402.80,323.55) scale(0.4107,0.4053)">)</text>
</g>
</svg></body></html>
